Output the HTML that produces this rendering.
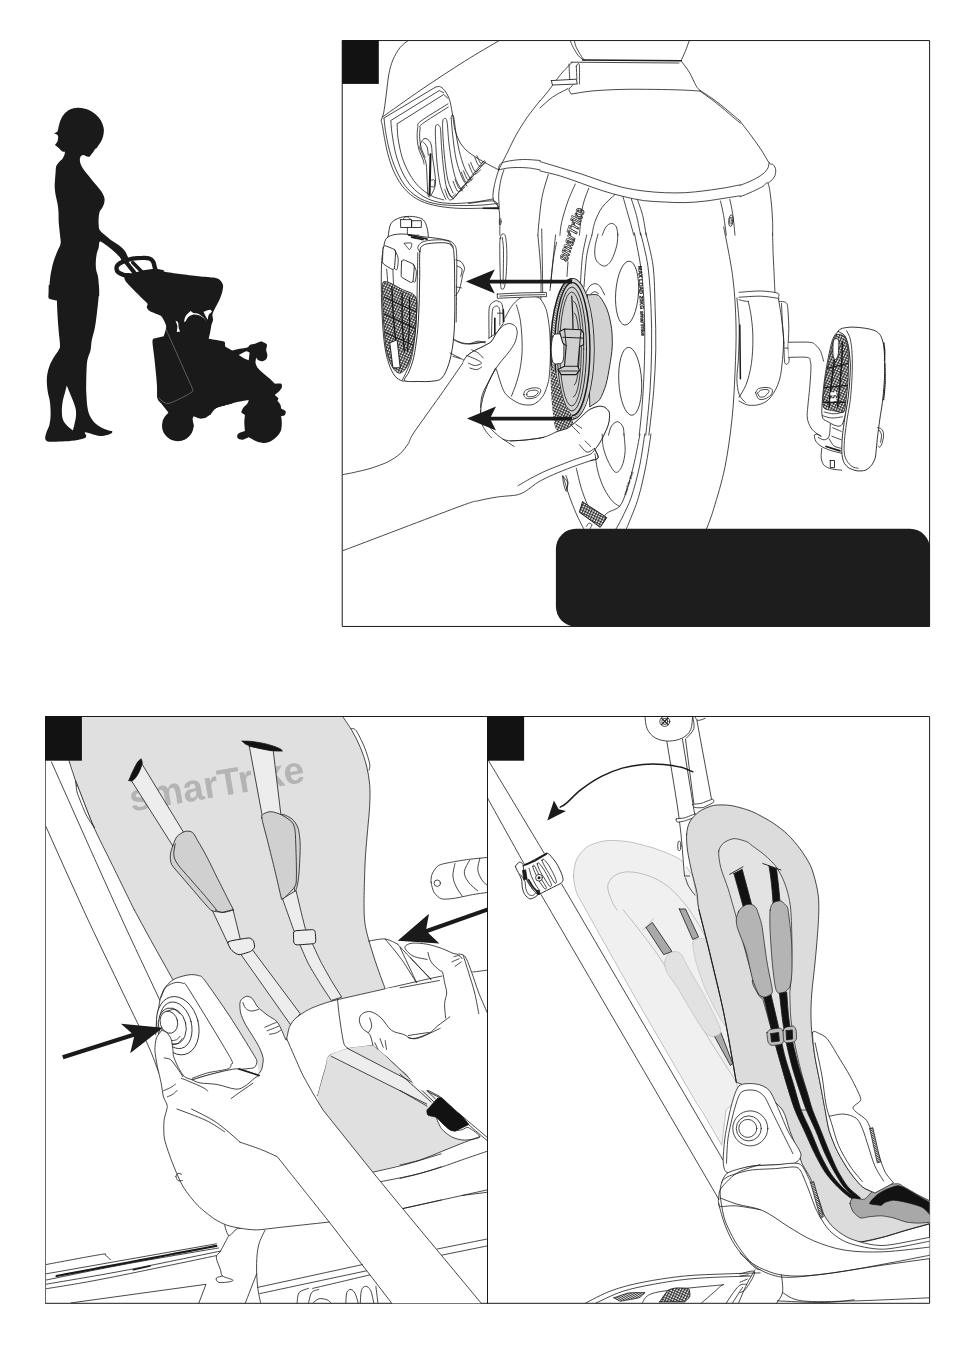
<!DOCTYPE html>
<html lang="en"><head><meta charset="utf-8"><title>smarTrike instructions</title>
<style>
html,body{margin:0;padding:0;background:#fff;}
body{width:964px;height:1361px;overflow:hidden;font-family:"Liberation Sans",sans-serif;}
svg{display:block;filter:grayscale(1);}
text{text-rendering:geometricPrecision;}
path,line,circle,ellipse,rect{stroke-linejoin:round;stroke-linecap:round;}
</style></head><body>
<svg width="964" height="1361" viewBox="0 0 964 1361">
<!-- p_base -->
<g>
<rect x="342.6" y="40.55" width="587" height="585.9" fill="#fff" stroke="#1a1a1a" stroke-width="1"/>
<rect x="45.55" y="716.5" width="884.05" height="586.8" fill="#fff" stroke="#1a1a1a" stroke-width="1"/>
</g>
<!-- p_sil -->
<g>
<path d="M77.5 107.7C80 107.6 82.5 108.1 85 108.7C87.5 109.4 90.2 110.4 92.4 111.9C94.7 113.3 97 115.5 98.7 117.5C100.4 119.5 101.6 121.6 102.4 123.7C103.3 125.8 103.8 127.9 103.9 130C104 132.1 103.5 134.3 103.1 136.2C102.6 138.1 101.9 139.8 101.2 141.2C100.5 142.7 99.4 143.8 98.7 145C98 146.1 97.4 147 96.8 148.1C96.2 148.5 95.5 148.7 94.9 149.3C94.4 150 94.3 150.7 93.4 151.8C92.6 153 91.1 154.7 90 156.2C89.3 156.4 89.2 157 88.1 156.8C86.9 156.6 84.4 154.8 83.1 154.9C81.8 155 80.7 156.2 80.2 157.4C79.7 158.7 79.7 160.6 80.2 162.4C80.7 164.3 81.5 166.2 83.1 168.7C84.7 171.2 87.8 174.7 90 177.4C92.1 180.1 94.3 182.6 96.2 184.9C98.1 187.2 99.8 189.1 101.2 191.2C102.5 193.2 103.8 195.5 104.3 197.4C104.8 199.3 104.6 200.7 104.3 202.4C104 204.1 103.2 205.9 102.4 207.4C101.7 208.8 100.6 209.5 99.9 211.1C99.3 212.8 98.9 215.1 98.7 217.4C98.5 219.7 98.5 222.8 98.7 224.9C98.9 227 98.6 228.2 99.7 229.9C100.7 231.5 102.8 233 104.9 234.9C107.1 236.7 109.9 239.2 112.4 241.1C114.9 243 117.8 244.4 119.9 246.1C122 247.8 123.7 249.4 124.9 251.1C126.2 252.8 126.7 254.6 127.4 256.1C128.1 257.6 129.3 258.8 129.3 259.8C129.3 260.9 128.5 262 127.4 262.3C126.4 262.6 124.3 262.5 123 261.7C121.8 260.9 121.3 258.9 119.9 257.3C118.6 255.8 117 254.2 114.9 252.3C112.8 250.5 109.7 247.9 107.4 246.1C105.1 244.3 102.5 242.4 101.2 241.7C99.8 241.1 99.7 241.4 99.3 242.4C98.9 243.3 99.1 245.5 98.7 247.4C98.3 249.2 97.3 251.1 96.8 253.6C96.3 256.1 95.9 259.6 95.8 262.3C95.7 265.1 95.8 267.5 96.2 270C96.6 272.5 97.6 274 98.1 277.3C98.6 280.6 98.8 285.6 99.2 289.8L99.2 296.1L57 301L57 299.8L49.4 298.3L48.7 296.7C48.9 294.4 48.9 293 49.1 289.8C49.4 286.6 49.8 280.6 50.2 277.3C50.6 274 50.9 272.7 51.5 270C52.1 267.2 52.7 264.2 53.7 261.1C54.7 257.9 56.3 254 57.5 251.1C58.6 248.2 60.2 246.3 60.6 243.6C61 240.9 60.3 238.4 60 234.9C59.7 231.3 59 226.1 58.7 222.4C58.5 218.6 58.7 215.5 58.5 212.4C58.3 209.3 58 206.6 57.5 203.6C57 200.7 56.1 197.6 55.6 194.9C55.2 192.2 54.8 189.9 54.7 187.4C54.6 184.9 54.8 182.4 55 179.9C55.1 177.4 55.4 174.7 55.6 172.4C55.8 170.1 55.7 167.8 56.2 166.2C56.8 164.5 57.7 163.7 58.7 162.4C59.8 161.2 61.5 159.9 62.5 158.7C63.4 157.4 63.9 156.1 64.4 154.9C64.8 153.8 64.8 152.9 65 151.8C63.9 151.6 62.9 151.8 61.9 151.2C60.8 150.6 59.9 149.1 58.7 148.1C57.6 147 56.2 146 55 145C55.8 143.7 57 142.7 57.5 141.2C58 139.8 58.3 137.4 58.1 136.2C57.9 135.1 56.9 134.8 56.2 134.3C55.5 133.9 54.7 133.8 54 133.5C55.2 132.7 56.7 132.4 57.5 131.2C58.3 130 58.2 128.1 58.7 126.2C59.3 124.4 59.7 122.1 60.6 120C61.5 117.9 62.8 115.5 64.4 113.7C65.9 112 67.8 110.4 70 109.4C72.2 108.4 75 107.8 77.5 107.7Z" fill="#1a1a1a"/>
<path d="M48.7 285L98.7 285C98.8 286.7 98.9 288.1 98.9 290C98.9 291.9 98.9 293.1 98.7 296.2C98.4 299.4 98.1 303.5 97.4 308.7C96.8 313.9 95.9 322.3 94.9 327.5C94 332.7 92.6 336.2 91.8 340C91.1 343.7 91.2 347 90.6 349.9C90 352.9 88.7 354.9 88.1 357.4C87.5 359.9 87.1 360.6 86.8 364.9C86.5 369.3 86.3 378.5 86.2 383.7C86.1 388.9 86.2 392.2 86.5 396.1C86.7 400.1 86.9 404.1 87.5 407.4C88 410.7 88.7 413.5 90 416.1C91.2 418.7 93.1 421.1 94.9 423C96.8 424.9 99.1 426.2 101.2 427.4C103.3 428.5 105.6 429.2 107.4 429.9C109.3 430.5 110.6 430.7 112.2 431.1C112.1 431.7 112.6 432.4 111.8 433C111 433.6 109.4 434.4 107.4 434.9C105.5 435.3 102.4 436 99.9 435.9C97.4 435.8 94.9 434.8 92.4 434.2C90 433.6 86 432.1 85 432.4C83.9 432.6 86.2 434.5 86.2 435.5C86.2 436.4 86.4 437.2 85 438C83.5 438.7 80.8 439.3 77.5 439.9C74.1 440.4 69.6 441 65 441.3C60.4 441.7 53.1 441.9 50 441.7C46.9 441.6 47 441.2 46.2 440.5C45.5 439.7 45.1 438.9 45.2 437.4C45.3 435.8 46.2 433.2 46.9 431.1C47.6 429 48.7 427.6 49.4 424.9C50 422.2 50.5 418.6 50.6 414.9C50.7 411.1 50.5 406.6 50 402.4C49.5 398.2 48 394.1 47.5 389.9C47 385.7 46.6 381.4 46.9 377.4C47.2 373.5 48.2 369.5 49.4 366.2C50.5 362.8 52.2 360.1 53.7 357.4C55.3 354.7 57.7 352 58.7 349.9C59.8 347.9 60 348.1 60 344.9C60 341.8 59.1 336.2 58.7 331.2C58.3 326.2 57.8 320.1 57.5 315C57.2 309.9 57.1 305.4 56.9 300.6C54.4 300 50.8 299.4 49.4 298.7C48 298.1 48.8 297.5 48.5 296.9L48.7 285Z" fill="#1a1a1a"/>
<path d="M66.8 385.5C66.2 387.8 65.7 389.6 65 392.4C64.2 395.2 63 399.1 62.5 402.4C62 405.7 61.7 409.5 61.9 412.4C62 415.3 62.2 417.6 63.1 419.9C64 422.2 65.9 424.3 67.5 426.1C69.1 427.9 71 429 72.7 430.5C73.3 428.6 73.8 427.3 74.3 424.9C74.9 422.5 75.8 418.8 76 416.1C76.2 413.4 76.1 411.1 75.6 408.6C75.1 406.1 74 403.6 73.1 401.1C72.2 398.6 71 396.2 70 393.6C68.9 391 67.9 388.2 66.8 385.5Z" fill="#fff"/>
<g fill="none" stroke="#1a1a1a">
<path d="M123.7 275C122.8 274.5 119.3 273.3 118.1 272.2C116.9 271.1 116.6 269.6 116.5 268.5C116.4 267.3 116.5 266.3 117.5 265.2C118.5 264.1 120 262.9 122.5 261.9C125 260.8 129.1 259.4 132.5 258.7C135.8 258.1 139.7 257.9 142.5 257.9C145.3 257.8 147.6 257.9 149.3 258.5C151.1 259.1 152.1 260 153.1 261.6C154 263.2 154.5 266.7 155 268.1C155.4 269.5 155.5 269.7 155.6 270" fill="none" stroke="#1a1a1a" stroke-width="4.4" />
<path d="M122.5 257.5L135.6 274.3" fill="none" stroke="#1a1a1a" stroke-width="4.2" />
<path d="M132.7 262.5L141.8 271.8" fill="none" stroke="#1a1a1a" stroke-width="3.5" />
</g>
<path d="M123.7 275.6C124.1 274.8 123.6 273.4 125 273.1C126.3 272.8 131.4 273.5 133.7 273.1C136.1 272.7 139.6 270.9 142.5 270.3C145.3 269.8 152.1 268.8 155 268.7C157.8 268.7 160.8 269.6 163.7 270C164.1 270.6 162.8 271.3 164.9 271.8C167.1 272.4 175.4 273.4 179.9 274C184.4 274.6 194 275.7 198.7 276.2C203.3 276.7 212.1 277.2 214.9 277.7C217.7 278.2 218.8 279 219.9 280C221 280.9 222.7 283.5 223 285C223.3 286.5 222.8 289.4 222.4 291.2C222 293 220.7 296.7 219.9 298.7C219.1 300.7 217 304.5 216.1 306.2C215.3 307.9 214.1 310 213.6 311.2C213.1 312.3 212.5 313.8 212.4 314.9C212.3 316.1 213.2 318.6 213 319.9C212.9 321.3 211.9 323.3 211.4 324.9C211 327.4 210.5 330.6 210.1 332.4C209.8 334.2 209.1 336.6 208.6 338.7C213.4 339.5 220.8 340.7 223 341.2C225.2 341.7 224.3 342 225 342.4L225 405.5C222.5 406.1 219.1 406.6 217.4 407.3C215.7 408.1 213.3 410.1 212.4 411.1C211.5 412.1 211.1 413.7 210.5 415L169.9 415C169.1 413.7 168.1 412.3 167.4 411.1C166.8 409.9 165.8 407.3 164.9 406.1C164.1 404.9 162.2 403.5 161.2 402.3C160.2 401.2 157.9 398.7 157.4 397.3C156.9 396 157.6 395.2 157.4 392.4C157.3 389.5 156.6 380.8 156.2 376.1C155.8 371.5 154.8 361.9 154.3 357.4C153.8 352.9 152.6 344.9 152.5 342.4C152.3 339.9 152.9 339.9 153.1 338.7L163.7 336.2C164.1 334.9 164.6 333.7 164.9 332.4C165.3 331.1 166.4 327.8 166.2 326.2C166 324.5 164.4 321.3 163.7 319.9C163 318.6 162 316.9 161.2 316.2C160.4 315.4 158.9 315 157.4 314.3C155.9 313.6 151.4 312.1 150 311.2C148.5 310.3 147.2 308.4 146.8 307.4C146.5 306.4 148 304.9 147.5 303.7C146.9 302.5 144.5 300.7 142.5 298.7C140.5 296.7 134.7 291 132.5 288.7C130.2 286.4 126.8 283 125.6 281.2C124.4 279.5 124.4 277.5 123.7 275.6Z" fill="#1a1a1a"/>
<path d="M175 322.5L208.1 338.7C209.5 339.1 210.5 339.5 212.5 339.9C214.4 340.4 219.1 341.2 222.5 341.8C223.3 343.3 223.6 345 225 346.2C226.3 347.4 229.9 349.1 232.4 350.6C234.9 349.9 237.9 349.1 239.9 348.7C241.9 348.3 246.1 347.9 247.4 347.4C248.8 346.9 248.9 345.4 249.9 344.9C250.9 344.4 253.4 344.2 254.9 343.7C256.4 343.2 259.1 342 261.2 341.2C263 342.2 266.1 343.2 266.8 344.3C267.4 345.5 266.1 348.5 266.2 349.9C266.2 351.4 267.4 353.7 267.4 354.9C267.4 356.2 266.8 358.5 266.2 359.3C265.5 360.1 263.5 361.1 262.4 361.2C261.3 361.3 258.9 360.4 258 359.9C257.2 359.4 256.8 358.3 256.2 357.4C256 359.1 255.4 361.1 255.5 362.4C255.7 363.8 256.5 366.1 257.4 367.4C258.3 368.7 260.7 370.9 262.4 372.4C264.1 373.9 268.2 377.2 269.9 378.7C271.6 380.2 273.2 382 274.9 383.7C277 383.7 280.2 383.2 281.1 383.7C282.1 384.2 282.1 386.3 281.8 387.4C281.4 388.5 279.6 390.8 278.6 391.8C277.7 392.8 276.1 393.8 274.9 394.9L278.6 398.6L277.4 400.5C278.4 402 280 403.8 280.5 404.9C281 406 280.9 407.4 281.1 408.6C282.6 409.5 285 410.3 285.5 411.1C286 412 285.5 414.2 284.9 414.9C284.3 415.5 282.4 415.7 281.1 416.1C281.4 418.2 281.8 420.5 281.8 422.4C281.8 424.2 281.7 428 281.1 429.9C280.6 431.7 278.7 434.6 277.4 436.1C276.1 437.6 272.8 440.2 271.2 441.1C269.5 442 266.7 442.9 264.9 443C263.1 443.1 259.1 442.2 257.4 441.7C255.8 441.2 253.6 439.8 252.4 439.2C251.3 438.6 249.9 438 248.7 437.3C246.6 438.2 243.8 439.7 242.4 439.8C241 440 238.8 439.2 238.1 438.6C237.4 438 237 436.2 237.2 435.5C237.4 434.7 238.3 433.6 239.3 433C240.3 432.4 243.1 431.7 244.9 431.1C244.7 428.2 244.3 424.5 244.3 422.4C244.3 420.2 244.7 417.4 244.9 414.9L241.2 412.4C241.8 410.9 242.2 409.2 243.1 408C243.9 406.8 246.7 404.7 247.4 403.6C248.2 402.5 248.3 401.1 248.7 399.9C246.6 400.3 244.8 400.6 242.4 401.1C240.1 401.6 234.7 402.7 231.2 403.6C227.7 404.5 218.9 406.7 216.2 408C213.5 409.3 212.5 412.4 211.2 413.6C209.9 414.9 207.7 416.7 206.2 417.4C204.7 418 201.6 418.8 200 418.6C198.3 418.4 195.8 417 193.7 416.1C193.3 417.4 192.5 418.5 192.5 419.9C192.5 421.2 193.9 424.3 193.7 426.1C193.6 427.9 192.2 431.9 191.2 433.6C190.2 435.3 187.7 437.6 186.2 438.6C184.7 439.6 181.5 440.6 180 440.8C178.5 441.1 176.7 440.6 175 440.5L175 322.5Z" fill="#1a1a1a"/>
<circle cx="177.7" cy="425.5" r="15.7" fill="#1a1a1a"/>
<path d="M157.2 387.4C157.3 391.2 156.8 396.3 157.5 398.7C158.2 401 161.1 403.2 162.5 404.9C163.8 406.6 165.8 409.1 167.5 411.1L193.1 416.1C195.3 416.8 198.2 417.9 199.9 418C201.7 418.1 204.5 417.7 206.2 416.8C207.8 415.8 210.9 412.4 212.4 411.1C213.9 409.9 214.7 408.4 217.4 407.4C220.1 406.4 227.4 404.9 232.4 403.6L232.4 374.9L157.2 387.4Z" fill="#1a1a1a"/>
<path d="M184 321.8C184.5 320 184.5 318 185.6 316.2C186.7 314.4 188.9 312.7 190.6 311C191.7 311.7 192.4 312.6 193.7 313.1C195.1 313.6 197.1 313.2 198.7 314C200.4 314.7 202.4 316.5 203.7 317.7C205 319 205.6 320.2 206.5 321.5C205.3 320.2 204.5 318.8 203.1 317.7C201.7 316.6 199.9 315.5 198.1 315C196.3 314.5 194.1 314.3 192.5 314.7C190.8 315.1 189.3 316.1 188.1 317.2C187 318.3 186.3 320.4 185.6 321.2C184.9 322 184.5 321.6 184 321.8Z" fill="#fff"/>
<path d="M203.5 311.8C205.6 311.1 208.5 309.7 210 309.7C211.4 309.7 211.3 311.1 212 311.8C210.9 312.9 209.4 313.7 208.7 315C208 316.3 208.1 318.1 207.7 319.7C207 318.5 206.3 317.5 205.6 316.2C204.9 314.9 204.2 313.3 203.5 311.8Z" fill="#fff"/>
<path d="M238.7 354.9C241.2 353.7 245.1 351.4 246.2 351.2C247.3 350.9 248.4 352 249.6 352.4L248.7 360.2C247.4 359.7 245.9 359.2 244.9 358.7C243.9 358.2 240.8 356.2 238.7 354.9Z" fill="#fff"/>
<path d="M175.6 320.5C176.4 321.2 177.7 321.6 178.1 322.4C178.4 323.2 178.7 327.8 178.9 328.7C179.1 329.6 179.8 330.5 180.2 331.4L176.8 332C177 330.1 177.5 327.1 177.4 326.2C177.4 325.2 176.4 323 176.2 322.4C176 321.9 175.8 321.2 175.6 320.5Z" fill="#fff"/>
<path d="M164.9 326.8L192.4 388.6C192.1 389.9 194.3 390.3 191.4 392.4C188.5 394.4 179.1 399.3 174.9 401.1C170.7 402.9 168.9 403.9 166.2 403.3C163.5 402.8 159.9 398.9 158.7 398" fill="none" stroke="#ddd" stroke-width="0.35" />
</g>
<!-- p_p1 -->
<g>
<defs><clipPath id="c1"><rect x="343" y="41" width="586" height="585"/></clipPath><pattern id="hat1" width="2.6" height="2.6" patternUnits="userSpaceOnUse" patternTransform="rotate(25)"><rect width="2.6" height="2.6" fill="#fff"/><path d="M0 0.6H2.6M0.6 0V2.6" stroke="#1a1a1a" stroke-width="0.9"/></pattern><pattern id="hat2" width="1.6" height="1.6" patternUnits="userSpaceOnUse" patternTransform="rotate(-30)"><rect width="1.6" height="1.6" fill="#fff"/><path d="M0 0.5H1.6" stroke="#1a1a1a" stroke-width="0.8"/></pattern><pattern id="hat3" width="1.5" height="1.5" patternUnits="userSpaceOnUse" patternTransform="rotate(-20)"><rect width="1.5" height="1.5" fill="#fff"/><path d="M0 0.5H1.5" stroke="#1a1a1a" stroke-width="0.55"/></pattern></defs>
<g clip-path="url(#c1)" fill="none" stroke="#1a1a1a" stroke-width="0.8">
<path d="M408.5 40.2C407.1 41.4 402.8 44.2 400.2 47.4C397.6 50.7 394.8 55.4 392.9 59.9C391 64.4 389.8 69.2 388.8 74.4C387.7 79.6 387.4 85.1 386.7 91C385.9 96.9 384.9 105.4 384.2 109.7C383.5 114 383.1 114.5 382.5 117L381.1 120.1C381.6 122.1 381.9 123.2 382.5 126.3C383.1 129.4 383.6 133.5 384.6 138.7C385.6 143.9 387 151.5 388.8 157.4C390.5 163.3 392.4 168.8 395 174C397.6 179.2 400.7 184.4 404.3 188.5C407.9 192.7 411.9 196.1 416.8 198.9C421.6 201.7 426.8 203.6 433.4 205.1C439.9 206.7 447.9 207.7 456.2 208.2C464.5 208.8 476.1 208.3 483.2 208.2C490.2 208.1 496.1 207.7 498.7 207.6" fill="none" stroke="#1a1a1a" stroke-width="0.8" />
<path d="M382.5 117C389.3 112.2 409.3 97.8 423 88.5C436.6 79.3 451.7 69.4 464.5 61.3C477.3 53.3 493.9 43.7 499.8 40.2" fill="none" stroke="#1a1a1a" stroke-width="0.8" />
<path d="M384 118L435.9 86.9C437.4 86.9 439 86 440.6 86.9C442.3 87.7 444.3 89.6 445.8 92.1C447.4 94.5 448.7 97.1 450 101.4C451.2 105.7 452.2 113.1 453.1 118C453.9 122.8 453.9 126.3 455.1 130.4C456.4 134.6 458.1 139.3 460.3 142.9C462.6 146.5 464.8 149.1 468.6 152.2C472.4 155.3 478.1 158.6 483.2 161.6C488.2 164.5 496.1 168.5 498.7 169.9" fill="none" stroke="#1a1a1a" stroke-width="0.8" />
<path d="M384 118.4C384.7 123.8 384.9 128.4 386.1 134.6C387.2 140.7 388.8 148.8 390.8 155.3C392.8 161.9 395.3 168.5 398.1 174C400.9 179.5 403.6 184.4 407.4 188.5C411.2 192.7 415.9 196.3 420.9 198.9C425.9 201.5 431.3 203 437.5 204.1C443.7 205.2 451 205.4 458.3 205.5C465.5 205.7 474.5 205.5 481.1 205.1C487.6 204.8 494.9 203.7 497.7 203.5" fill="none" stroke="#1a1a1a" stroke-width="0.8" />
<path d="M443.7 92.7C443 92.3 440.7 91.3 439.2 90.6L390.8 120.5C391.2 124.5 391.1 127 391.9 132.5C392.7 138 393.9 146.7 395.6 153.3C397.3 159.8 399.6 166.4 402.2 171.9C404.9 177.5 407.9 182.3 411.6 186.5C415.2 190.6 419.5 194.2 424 196.8C428.5 199.5 433.2 201.1 438.5 202.2C443.9 203.3 450.1 203.5 456.2 203.5C462.2 203.4 468.6 202.8 474.9 202C481.1 201.3 490.4 199.4 493.5 198.9" fill="none" stroke="#1a1a1a" stroke-width="0.8" />
<path d="M447.9 98.3C447.2 97.7 445.1 95.8 443.7 94.5L397.1 123.8C397.4 128.8 397.2 133.1 398.1 138.7C399 144.3 400.3 151.5 402.2 157.4C404.1 163.3 406.7 169.2 409.5 174C412.3 178.8 415.2 182.8 418.8 186.5C422.5 190.1 427.1 193.5 431.3 195.8C435.4 198 441.7 199.2 443.7 199.9" fill="none" stroke="#1a1a1a" stroke-width="0.8" />
<path d="M447.9 103.9C438.9 109.6 425.9 117.2 420.9 121.1C415.9 125 418.4 124.4 417.8 127.3C417.2 130.3 417 135.1 417.2 138.7C417.4 142.4 417.9 145.7 418.8 149.1C419.8 152.6 422.1 157 423 159.5C423.9 162 423.9 163.3 424 164" fill="none" stroke="#1a1a1a" stroke-width="0.8" />
<path d="M448.3 107C439.7 112.5 427.3 120 422.6 123.6C417.9 127.2 420.6 126.3 420.1 128.8C419.6 131.3 419.5 135.5 419.7 138.7C419.9 142 420.4 145 421.3 148.1C422.2 151.2 424.4 155.9 425.1 157.4" fill="none" stroke="#1a1a1a" stroke-width="0.8" />
<path d="M445.8 199.3C444.9 197.2 442 191.7 440.6 186.5C439.2 181.2 438.3 174.3 437.5 167.8C436.7 161.2 436.2 153.6 435.9 147C435.5 140.5 435.2 132.1 435.4 128.4C435.6 124.6 436.4 125 437.1 124.6C437.8 124.3 439 125.3 439.6 126.3C440.2 127.3 440.3 126.6 440.6 130.4C441 134.2 441.1 142.5 441.7 149.1C442.2 155.7 442.9 163.3 443.7 169.9C444.6 176.4 445.3 183.7 446.8 188.5C448.4 193.4 452 197.2 453.1 198.9" fill="none" stroke="#1a1a1a" stroke-width="0.8" />
<path d="M453.1 193.1C452.2 190.9 449.3 185.8 447.9 180.2C446.5 174.6 445.6 166.4 444.8 159.5C444 152.6 443.5 145 443.1 138.7C442.8 132.5 442.4 125.5 442.7 122.1C443 118.7 444 118.4 444.8 118.4C445.5 118.4 446.4 118.1 447.1 122.1C447.7 126.2 448.1 136 448.9 142.9C449.8 149.8 450.8 157.4 452 163.6C453.2 169.9 454.5 175.7 456.2 180.2C457.9 184.8 461.4 189.2 462.4 191" fill="none" stroke="#1a1a1a" stroke-width="0.8" />
<path d="M451 118C451.2 117.5 452 114.9 452.4 114.9C452.9 114.9 453.3 114.7 453.9 118C454.5 121.3 455.3 129.1 456.2 134.6C457.1 140.1 457.9 145.7 459.3 151.2C460.7 156.7 462.5 162.9 464.5 167.8C466.5 172.6 470 178.2 471.1 180.2" fill="none" stroke="#1a1a1a" stroke-width="0.8" />
<path d="M451.2 118.4C451.5 121.8 452.2 131.9 453.1 138.7C453.9 145.6 454.8 153.3 456.2 159.5C457.6 165.7 459.6 171.7 461.4 176.1C463.2 180.5 466 184.4 467 186" fill="none" stroke="#1a1a1a" stroke-width="0.8" />
<path d="M444.8 189.6C445.6 191.3 447.6 199 449.5 199.9C451.5 200.9 455.4 196 456.6 195.2" fill="none" stroke="#1a1a1a" stroke-width="0.8" />
<path d="M446.8 187.9C447.5 189.4 449.4 196 450.8 197C452.2 198 454.6 194.4 455.4 193.9" fill="none" stroke="#1a1a1a" stroke-width="0.8" />
<path d="M453.1 181.3C453.9 183 456.3 190.7 458.3 191.6C460.2 192.6 463.8 187.7 464.9 186.9" fill="none" stroke="#1a1a1a" stroke-width="0.8" />
<path d="M455.1 179.6C455.9 181.1 458.1 187.7 459.5 188.7C460.9 189.7 463 186.1 463.7 185.6" fill="none" stroke="#1a1a1a" stroke-width="0.8" />
<path d="M461.4 172.3C462.2 174.1 464.6 181.7 466.6 182.7C468.5 183.7 472.1 178.9 473.2 178.2" fill="none" stroke="#1a1a1a" stroke-width="0.8" />
<path d="M463.4 170.7C464.2 172.2 466.4 178.8 467.8 179.8C469.2 180.9 471.3 177.4 472 176.9" fill="none" stroke="#1a1a1a" stroke-width="0.8" />
<path d="M468.6 164C469.5 165.8 471.8 173.5 473.8 174.4C475.8 175.4 479.3 170.6 480.5 169.9" fill="none" stroke="#1a1a1a" stroke-width="0.8" />
<path d="M470.7 162.4C471.4 163.9 473.6 170.5 475.1 171.5C476.5 172.6 478.5 169.1 479.2 168.6" fill="none" stroke="#1a1a1a" stroke-width="0.8" />
<path d="M474.9 157.4C475.6 158.9 477.6 165.4 479.4 166.1C481.2 166.9 484.6 162.7 485.6 162" fill="none" stroke="#1a1a1a" stroke-width="0.8" />
<path d="M476.9 155.7C477.6 157 479.4 162.4 480.7 163.2C481.9 164 483.8 161.1 484.4 160.7" fill="none" stroke="#1a1a1a" stroke-width="0.8" />
<path d="M456.2 195.2C460.7 189.6 478.7 167.2 483.2 161.6" fill="none" stroke="#1a1a1a" stroke-width="0.8" />
<path d="M453.1 198.9C458.4 192.7 479.9 168.1 485.2 162" fill="none" stroke="#1a1a1a" stroke-width="0.8" />
<path d="M419.9 148.1C420 147.2 420.2 144.4 420.9 142.9C421.6 141.3 422.8 139.3 424 138.7C425.2 138.2 427 138.7 428.2 139.8C429.4 140.8 430.6 142.4 431.3 145C432 147.6 431.8 151.2 432.3 155.3C432.8 159.5 433.9 165 434.4 169.9C434.9 174.7 436 180.2 435.4 184.4C434.9 188.5 432.5 192.8 431.3 194.8C430.1 196.7 428.9 198.2 428.2 195.8C427.5 193.4 427.5 185.6 427.1 180.2C426.8 174.9 426.8 167.8 426.1 163.6C425.4 159.5 424 157.9 423 155.3C422 152.7 420.4 149.3 419.9 148.1" fill="none" stroke="#1a1a1a" stroke-width="0.8" />
<path d="M430.5 154.3L429.6 194.8" fill="none" stroke="#1a1a1a" stroke-width="2" />
<path d="M423 141.8C423.7 142.7 426.3 144.8 427.1 147C428 149.3 428 153.9 428.2 155.3" fill="none" stroke="#1a1a1a" stroke-width="0.8" />
<path d="M431.3 180.2C431.8 180.2 433.9 179.2 434.4 180.2C434.9 181.3 434.9 185.4 434.4 186.5C433.9 187.5 431.8 186.5 431.3 186.5" fill="none" stroke="#1a1a1a" stroke-width="0.8" />
<path d="M540.2 100.4C538 103.3 530.7 112.3 526.7 118C522.7 123.7 519.5 129.1 516.3 134.6C513.2 140.1 510.5 146.3 508 151.2C505.6 156 503.4 160.5 501.8 163.6C500.3 166.7 499.2 168.8 498.7 169.9" fill="none" stroke="#1a1a1a" stroke-width="0.8" />
<path d="M498.7 169.9C498.9 169 498.5 166.1 499.8 164.7C501 163.3 502.2 162.4 506 161.6C509.8 160.7 516.9 159.7 522.6 159.5C528.3 159.3 537.3 160.3 540.2 160.5" fill="none" stroke="#1a1a1a" stroke-width="0.8" />
<path d="M498.7 169.9C500.6 169.5 505.5 168.1 510.1 167.8C514.8 167.4 521.7 167.4 526.7 167.8C531.7 168.1 538 169.5 540.2 169.9" fill="none" stroke="#1a1a1a" stroke-width="0.8" />
<path d="M498.7 169.9C498 172.3 495.5 179.5 494.6 184.4C493.6 189.2 492.4 194.9 493.1 198.9C493.8 202.9 497.6 204.4 498.7 208.2C499.8 212 499.6 217.2 499.8 221.7C499.9 226.2 499.8 233 499.8 235.2" fill="none" stroke="#1a1a1a" stroke-width="0.8" />
<path d="M503.9 169.9C503.4 171.6 501.7 176.1 500.8 180.2C499.9 184.4 499 190.3 498.7 194.8C498.5 199.2 499.2 205.1 499.3 207.2" fill="none" stroke="#1a1a1a" stroke-width="0.8" />
<path d="M468.6 203.5C472.8 203 488.5 200.2 493.5 201C498.5 201.8 497.8 207 498.7 208.2" fill="none" stroke="#1a1a1a" stroke-width="0.8" />
<path d="M483.2 208.2L498.7 208.4" fill="none" stroke="#1a1a1a" stroke-width="1.6" />
<ellipse cx="500.2" cy="221.7" rx="0.9" ry="3.2"/>
<path d="M570.1 40.2C570.6 41.4 571.8 44.9 573.2 47.4C574.6 50 576.8 53.8 578.4 55.7C579.9 57.7 581.8 58.5 582.5 59.1" fill="none" stroke="#1a1a1a" stroke-width="0.8" />
<path d="M574.2 40.2C574.6 41.4 575.1 44.8 576.3 47.4C577.5 50.1 580.1 54.2 581.5 56.4C582.9 58.5 584.1 59.7 584.6 60.3" fill="none" stroke="#1a1a1a" stroke-width="0.8" />
<path d="M582.5 59.9L681.1 60.7" fill="none" stroke="#1a1a1a" stroke-width="1.5" />
<path d="M571.1 62.2L679 63" fill="none" stroke="#1a1a1a" stroke-width="0.8" />
<path d="M689.4 40.2C688.7 42.1 686.6 48.2 685.2 51.6C683.8 55 681.8 59.2 681.1 60.7" fill="none" stroke="#1a1a1a" stroke-width="0.8" />
<path d="M681.1 60.9C682.5 62.8 687 68.4 689.4 72.3C691.8 76.3 693.9 81.9 695.6 84.8C697.3 87.7 696.3 87.2 699.8 90C703.2 92.7 710.8 97.2 716.3 101.4C721.9 105.5 729 111.6 732.9 114.9C736.9 118.2 739 120.1 740.2 121.1" fill="none" stroke="#1a1a1a" stroke-width="0.8" />
<path d="M699.8 91C702.5 93 710.8 98.7 716.3 103C721.9 107.4 729 113.6 732.9 117C736.9 120.3 739 122.1 740.2 123.2" fill="none" stroke="#1a1a1a" stroke-width="0.8" />
<path d="M573.2 84.8C572.5 85.6 569.4 87.8 569 89.4C568.7 90.9 570.4 92.5 571.1 94.1C578 93.1 583.2 91.8 591.9 91C600.5 90.2 612.6 89.6 623 89.4C633.4 89.1 644.4 89.3 654.1 89.4C663.8 89.5 673.5 89.7 681.1 90C688.7 90.3 696.6 90.8 699.8 91" fill="none" stroke="#1a1a1a" stroke-width="0.8" />
<path d="M572.2 62.2C570.3 64.2 564.7 69.6 560.7 74.4C556.8 79.2 551.8 86.6 548.3 91C544.8 95.4 541.4 99.3 540 101" fill="none" stroke="#1a1a1a" stroke-width="0.8" />
<path d="M568 88.5C565.4 90 557.1 94 552.4 97.2C547.8 100.5 542.1 106.2 540 108" fill="none" stroke="#1a1a1a" stroke-width="0.8" />
<path d="M551.4 80.6L576.3 79.2L577.3 84L552.4 85L551.4 80.6Z" fill="#fff" stroke="#1a1a1a" stroke-width="0.85" />
<path d="M569 64C569.1 66.6 569.6 77 569.7 79.6" fill="none" stroke="#1a1a1a" stroke-width="0.8" />
<path d="M576.3 66.1C576.4 68.3 576.8 76.8 576.9 79" fill="none" stroke="#1a1a1a" stroke-width="0.8" />
<path d="M576.3 66.1C576.5 65.8 577.2 64.1 577.8 64C578.3 64 579.1 62.4 579.4 65.7C579.7 69 579.4 80.9 579.4 84" fill="none" stroke="#1a1a1a" stroke-width="0.8" />
<path d="M540 161.6C543.5 162.6 553.8 165.7 560.7 167.8C567.7 169.9 574.6 171.8 581.5 174C588.4 176.3 595.3 179 602.2 181.3C609.2 183.5 616.1 185.9 623 187.5C629.9 189.1 636.8 190.2 643.7 191C650.7 191.9 657.6 192.4 664.5 192.7C671.4 193 678.3 193 685.2 192.7C692.1 192.3 699.1 191.5 706 190.6C712.9 189.7 721 188.5 726.7 187.5C732.4 186.5 738 185.2 740.2 184.8" fill="none" stroke="#1a1a1a" stroke-width="0.8" />
<path d="M540 170.9C543.5 171.8 553.8 174 560.7 176.1C567.7 178.2 574.6 180.9 581.5 183.3C588.4 185.8 595.3 188.4 602.2 190.6C609.2 192.8 616.1 194.8 623 196.4C629.9 198.1 636.8 199.6 643.7 200.6C650.7 201.5 657.6 201.7 664.5 202C671.4 202.4 678.3 202.8 685.2 202.6C692.1 202.5 699.1 201.8 706 201C712.9 200.2 721 198.7 726.7 197.9C732.4 197 738 196.1 740.2 195.8" fill="none" stroke="#1a1a1a" stroke-width="0.8" />
<path d="M548.3 174.4C547.3 178.2 543.6 188.9 542.1 196.8C540.5 204.7 539.7 215.3 539 221.7C538.3 228.1 538.1 233 537.9 235.2" fill="none" stroke="#1a1a1a" stroke-width="0.8" />
<path d="M575.3 184C574.1 186.8 570.3 194.7 568 201C565.8 207.3 563.1 216 561.8 221.7C560.4 227.4 560.2 233 559.9 235.2" fill="none" stroke="#1a1a1a" stroke-width="0.8" />
<path d="M588.8 188.1C587.7 191.3 584.1 199.3 582.5 207.2C581 215 579.9 230.5 579.4 235.2" fill="none" stroke="#1a1a1a" stroke-width="0.8" />
<path d="M614.7 194.8C612.6 196.8 605.5 202.7 602.2 207.2C599 211.7 596.7 217.1 595 221.7C593.3 226.4 592.4 233 591.9 235.2" fill="none" stroke="#1a1a1a" stroke-width="0.8" />
<path d="M623 196.8C623.7 199.2 625.8 206.5 627.1 211.3C628.5 216.2 630.2 221.9 631.3 225.9C632.4 229.8 633.4 233.7 633.8 235.2" fill="none" stroke="#1a1a1a" stroke-width="0.8" />
<path d="M631.3 198.9C632.2 201.7 634.9 209.4 636.5 215.5C638 221.5 639.9 231.9 640.6 235.2" fill="none" stroke="#1a1a1a" stroke-width="0.8" />
<path d="M637.5 199.9C638.4 202.5 641.2 209.6 642.7 215.5C644.1 221.4 645.6 231.9 646.2 235.2" fill="none" stroke="#1a1a1a" stroke-width="0.8" />
<path d="M720.5 201C721 203.4 722.6 209.8 723.6 215.5C724.6 221.2 725.9 231.9 726.3 235.2" fill="none" stroke="#1a1a1a" stroke-width="0.8" />
<path d="M729.8 199.3C730.4 202 732.1 209.5 732.9 215.5C733.8 221.5 734.7 231.9 735 235.2" fill="none" stroke="#1a1a1a" stroke-width="0.8" />
<ellipse cx="730.9" cy="220.7" rx="2.2" ry="5.8" transform="rotate(5 730.9 220.7)"/>
<ellipse cx="730.9" cy="220.7" rx="1.2" ry="3.6"/>
<path d="M602.2 235.2C602.9 233.8 604.4 228.9 606 226.9C607.5 224.9 609.8 223.4 611.6 223.4C613.3 223.4 615.3 224.9 616.3 226.9C617.4 228.9 617.6 233.8 617.8 235.2" fill="none" stroke="#1a1a1a" stroke-width="0.8" />
<path d="M740 121.1C741.7 123.3 746.9 129.9 750.4 134.6C753.8 139.3 757.6 144.4 760.7 149.1C763.9 153.8 767 160 769 162.6C771.1 165.2 772.1 163.5 773.2 164.7C774.3 165.9 775.5 167.8 775.7 169.9C775.9 171.9 775.5 174.9 774.2 177.1C773 179.4 769 182.3 768 183.3" fill="none" stroke="#1a1a1a" stroke-width="0.8" />
<path d="M740 185.4C742.1 184.6 748.6 182.1 752.4 180.2C756.3 178.3 760.2 176.1 762.8 174C765.4 171.9 767 169.7 768 167.8C769 165.9 768.9 163.5 769 162.6" fill="none" stroke="#1a1a1a" stroke-width="0.8" />
<path d="M740 196.8C742.1 196 748.6 193.4 752.4 191.6C756.3 189.9 760.2 187.8 762.8 186.5C765.4 185.1 766.6 180.9 768 183.3C769.4 185.8 770.4 194.6 771.1 201C771.9 207.4 772.3 216 772.6 221.7C772.8 227.4 772.6 233 772.6 235.2" fill="none" stroke="#1a1a1a" stroke-width="0.8" />
<path d="M634.4 232.9C635.4 238.5 639.1 255.4 640.6 266.1C642.2 276.8 643 285.1 643.7 297.2C644.4 309.3 644.8 324.9 644.8 338.7C644.8 352.6 644.3 368.1 643.7 380.2C643.2 392.3 642.4 402.2 641.7 411.3C640.9 420.5 639.6 431.2 639.2 435.2" fill="none" stroke="#1a1a1a" stroke-width="0.8" />
<path d="M640.6 232.9C641.8 238.5 646.2 253.7 647.9 266.1C649.6 278.6 650.4 293.8 651 307.6C651.6 321.4 651.8 335.3 651.6 349.1C651.4 362.9 650.9 376.3 650 390.6C649 405 646.5 427.8 645.8 435.2" fill="none" stroke="#1a1a1a" stroke-width="0.8" />
<path d="M645.8 232.9C647 238.5 651.5 253.7 653.1 266.1C654.6 278.6 654.7 293.8 655.1 307.6C655.6 321.4 656 335.3 655.8 349.1C655.5 362.9 654.8 376.3 653.7 390.6C652.6 405 649.7 427.8 648.9 435.2" fill="none" stroke="#1a1a1a" stroke-width="0.8" />
<path d="M723.7 226.8C725.2 235.3 730.8 261.1 732.8 277.5C734.9 293.8 735.6 309.1 736 324.9C736.4 340.7 735.7 356.6 735 372.4C734.4 388.2 733.6 404 731.9 419.8C730.2 435.7 727.9 452.5 724.9 467.3C721.9 482.1 717 497.9 713.8 508.4C710.7 519 707.3 526.9 705.9 530.6" fill="none" stroke="#1a1a1a" stroke-width="0.8" />
<path d="M537.9 235C538.4 241.9 540.7 262 541 276.5C541.4 291 540.2 314.5 540 322.1" fill="none" stroke="#1a1a1a" stroke-width="0.8" />
<path d="M555.6 235C555 240.2 553.3 257.5 552.4 266.1C551.6 274.8 550.7 283.4 550.4 286.9" fill="none" stroke="#1a1a1a" stroke-width="0.8" />
<path d="M568 262C567.8 264.4 567.1 274.1 567 276.5" fill="none" stroke="#1a1a1a" stroke-width="0.8" />
<path d="M586.7 235C586 238.5 583.6 247.8 582.5 255.7C581.5 263.7 580.8 278.2 580.5 282.7" fill="none" stroke="#1a1a1a" stroke-width="0.8" />
<path d="M591.9 235C591 238.5 588 247.1 586.7 255.7C585.4 264.4 584.4 281.7 584 286.9" fill="none" stroke="#1a1a1a" stroke-width="0.8" />
<path d="M598.1 234C597.6 236.2 595.3 243.1 595 247.4C594.6 251.8 594.5 256.8 596 259.9C597.6 263 601.7 266.1 604.3 266.1C606.9 266.1 609.5 263.4 611.6 259.9C613.7 256.4 615.7 249.7 616.8 245.4C617.8 241.1 617.6 235.9 617.8 234" fill="none" stroke="#1a1a1a" stroke-width="0.8" />
<ellipse cx="627.1" cy="293.1" rx="11.4" ry="32" transform="rotate(4 627.1 293.1)"/>
<ellipse cx="630.2" cy="381.3" rx="11.4" ry="34" transform="rotate(-3 630.2 381.3)"/>
<path d="M608.5 435.2C609 433.7 610 428.1 611.6 425.9C613.1 423.6 615.9 421.5 617.8 421.7C619.7 421.9 622 424.7 623 426.9C624 429.2 623.9 433.8 624 435.2" fill="none" stroke="#1a1a1a" stroke-width="0.8" />
<text opacity="0.99" x="638.3" y="266" font-family="Liberation Sans, sans-serif" font-size="5.2" font-weight="bold" fill="#1a1a1a" stroke="#1a1a1a" stroke-width="0.3" transform="rotate(87.5 638.3 266)" textLength="70" lengthAdjust="spacingAndGlyphs">MAX LOAD 20KG smarTrike</text>
<text opacity="0.99" x="567" y="262" font-family="Liberation Sans, sans-serif" font-size="13" font-weight="bold" font-style="italic" fill="#fff" stroke="#1a1a1a" stroke-width="0.8" transform="rotate(-71 567 262)" textLength="55" lengthAdjust="spacingAndGlyphs">smarTrike</text>
<text opacity="0.99" x="566" y="261.6" font-family="Liberation Sans, sans-serif" font-size="13" font-weight="bold" font-style="italic" fill="#fff" stroke="#1a1a1a" stroke-width="0.6" transform="rotate(-71 566 261.6)" textLength="55" lengthAdjust="spacingAndGlyphs">smarTrike</text>
<path d="M388.1 237.3C388.6 235 388.8 227.1 390.8 223.8C392.8 220.5 396.5 218.8 400.2 217.6C403.8 216.4 408.8 216.2 412.6 216.5C416.4 216.9 420.6 217.7 423 219.6C425.4 221.5 426.2 225 427.1 227.9C428 230.9 428.2 235.7 428.4 237.3" fill="#fff" stroke="#1a1a1a" stroke-width="0.85" />
<path d="M400.6 219.6L411.6 219.6L411.6 227.5L400.6 227.5L400.6 219.6Z" fill="none" stroke="#1a1a1a" stroke-width="0.85" />
<path d="M411.6 220.7L421.3 220.7L421.3 227.5L411.6 227.5L411.6 220.7Z" fill="none" stroke="#1a1a1a" stroke-width="0.85" />
<path d="M403.3 219.6C403.5 219.2 403.9 217.6 404.7 217.2C405.6 216.7 407.5 216.7 408.5 217.2C409.4 217.6 410.2 219.2 410.5 219.6" fill="none" stroke="#1a1a1a" stroke-width="0.8" />
<path d="M407.4 227.5C407.4 228.8 407.4 233.9 407.4 235.2" fill="none" stroke="#1a1a1a" stroke-width="0.8" />
<path d="M402.2 235.2C405 235.2 416.1 235.2 418.8 235.2" fill="none" stroke="#1a1a1a" stroke-width="0.8" />
<path d="M387.7 237.1C390.8 234.8 396.4 234 402.2 234C408.1 233.9 416.8 235.9 423 236.7C429.2 237.5 435.3 238 439.6 238.7C443.9 239.5 445.8 240.4 448.9 241.2L453.1 246.4L443.7 318L408.5 380.2C406.4 380.4 404.5 381.5 402.2 380.9C400 380.2 397.2 378.9 395 376.1C392.7 373.2 390.5 368.8 388.8 363.6C387 358.4 385.6 351.9 384.6 345C383.6 338 383 330.1 382.5 322.1C382 314.2 381.7 306.6 381.5 297.2C381.3 287.9 381.1 274.4 381.5 266.1C381.8 257.8 382.5 252.3 383.6 247.4C384.6 242.6 384.6 239.3 387.7 237.1Z" fill="#fff" stroke="#1a1a1a" stroke-width="0.85" />
<path d="M384 281.7C387.2 280.4 397 286.8 402.2 289.4C407.5 292 413.4 292.5 415.7 297.2C418.1 302 416.7 310.4 416.3 318C416 325.6 415 335.3 413.7 342.9C412.3 350.5 410.6 358.6 408.5 363.6C406.3 368.6 403.2 372.3 400.6 373C398 373.7 395.2 371.4 392.9 367.8C390.6 364.1 388.2 358.8 386.7 351.2C385.1 343.6 384.2 331.1 383.6 322.1C382.9 313.1 382.7 304 382.7 297.2C382.8 290.5 380.7 283 384 281.7Z" fill="url(#hat1)" stroke="#1a1a1a" stroke-width="0.8" />
<path d="M391.9 286.9C392.1 292.1 392.8 308.7 393.5 318C394.2 327.3 394.9 334.6 396 342.9C397.1 351.2 399.5 363.6 400.2 367.8" fill="none" stroke="#1a1a1a" stroke-width="1.4" />
<path d="M402.2 293.1C402.2 297.9 401.9 312.5 402.2 322.1C402.6 331.8 404 346.3 404.3 351.2" fill="none" stroke="#1a1a1a" stroke-width="1.4" />
<path d="M409.5 297.2C409.5 301.7 409.8 315.2 409.5 324.2C409.2 333.2 407.8 346.7 407.4 351.2" fill="none" stroke="#1a1a1a" stroke-width="1.2" />
<path d="M384.6 297.2L415.7 311.8" fill="none" stroke="#1a1a1a" stroke-width="1.2" />
<path d="M384 313.8L415.1 328.4" fill="none" stroke="#1a1a1a" stroke-width="1.2" />
<path d="M385.2 332.5L413 345" fill="none" stroke="#1a1a1a" stroke-width="1.2" />
<path d="M389.8 342.9L397.1 339.8L400.2 367.8L392.9 367.8L389.8 342.9Z" fill="#fff" stroke="#1a1a1a" stroke-width="0.9" />
<path d="M383.2 247.9C383.4 246.5 384.3 245.7 385.2 245.8C386.2 245.9 393.5 249 394.4 249.5C395.2 250 395.6 250.5 395.6 252C395.6 253.6 394.7 266.8 394.4 268.2C394 269.6 392.8 269.6 391.9 269.2C391 268.9 384.3 264.7 383.6 264C382.8 263.4 382.6 262.9 382.5 261.6C382.5 260.2 382.9 249.2 383.2 247.9Z" fill="#fff" stroke="#1a1a1a" stroke-width="0.9" />
<path d="M401.6 261.6C401.8 260.3 402.9 259.7 403.9 259.9C404.9 260.1 412.2 263.5 413 264C413.9 264.6 414.3 265.1 414.3 266.5C414.3 268 413.3 279.7 413 281.1C412.7 282.4 411.4 282.6 410.5 282.3C409.6 282 403 278.1 402.2 277.5C401.5 277 401.3 276.8 401.2 275.5C401.2 274.1 401.4 262.9 401.6 261.6Z" fill="#fff" stroke="#1a1a1a" stroke-width="0.9" />
<path d="M394.4 249.5C395 250.9 397.6 254.5 398.1 257.8C398.5 261.1 397.7 267.5 397.1 269.2C396.4 271 394.8 268.4 394.4 268.2" fill="none" stroke="#1a1a1a" stroke-width="0.8" />
<path d="M413 264C413.6 265.3 416 268.4 416.3 271.3C416.7 274.2 415.7 280.1 415.1 281.7C414.6 283.3 413.4 281.2 413 281.1" fill="none" stroke="#1a1a1a" stroke-width="0.8" />
<path d="M386.7 269.2C386.9 271.3 387.5 279.6 387.7 281.7" fill="none" stroke="#1a1a1a" stroke-width="0.8" />
<path d="M392.9 270.3C393 272.5 393.4 281.5 393.5 283.8" fill="none" stroke="#1a1a1a" stroke-width="0.8" />
<path d="M404.3 243.3C405.2 244.3 408.3 249.5 409.5 249.5C410.7 249.5 412.4 244.3 411.6 243.3C410.7 242.3 405.5 243.3 404.3 243.3" fill="none" stroke="#1a1a1a" stroke-width="0.8" />
<path d="M408.5 235C411.6 235.7 424 238.5 427.1 239.1" fill="none" stroke="#1a1a1a" stroke-width="1.6" />
<path d="M411.6 237.1C413.5 237.5 421.1 239.1 423 239.6" fill="none" stroke="#1a1a1a" stroke-width="1.6" />
<path d="M419.9 251.6C420.4 246.4 421.1 246.8 423 245.4C424.9 244 427.5 243.7 431.3 243.3C435.1 242.9 442.4 242.4 445.8 242.9C449.3 243.4 450.7 244.3 452 246.4C453.4 248.6 453.7 249 454.1 255.7C454.6 262.5 454.6 276.5 454.7 286.9C454.8 297.2 455 308.7 454.7 318C454.5 327.3 454 335.3 453.1 342.9C452.1 350.5 450.8 357.8 448.9 363.6C447 369.5 444.6 375.2 441.7 378.2C438.7 381.1 435.1 380.7 431.3 381.3C427.5 381.8 423.3 381.6 418.8 381.5C414.4 381.4 406.4 382.2 404.7 380.6C403.1 379.1 407.4 375.8 408.9 371.9C410.4 368.1 412.3 363.6 413.7 357.4C415 351.2 416.3 342.9 417.2 334.6C418.1 326.3 418.6 317.3 419 307.6C419.5 297.9 419.5 285.8 419.7 276.5C419.8 267.2 419.3 256.8 419.9 251.6Z" fill="#fff" stroke="#1a1a1a" stroke-width="0.9" />
<path d="M417.8 252.6C417.7 256.6 417.6 267.3 417.4 276.5C417.2 285.7 417.1 297.9 416.8 307.6C416.4 317.3 416 326.3 415.1 334.6C414.2 342.9 413 351.4 411.6 357.4C410.2 363.5 408.4 367.1 406.8 370.9C405.2 374.7 403 378.7 402.2 380.2" fill="none" stroke="#1a1a1a" stroke-width="0.8" />
<path d="M419.9 251.6C419.5 250.9 417.5 249 417.8 247.4C418.1 245.9 419.7 243.5 422 242.3C424.2 241.1 427.1 240.5 431.3 240.2C435.4 239.8 443 239.5 446.8 240.2C450.7 240.9 452.5 242.1 454.1 244.3C455.7 246.6 456.2 246.6 456.6 253.7C457 260.8 456.7 275.5 456.6 286.9C456.5 298.3 456.3 316.3 456.2 322.1" fill="none" stroke="#1a1a1a" stroke-width="0.8" />
<path d="M455.8 259.9C456.7 260.2 459.9 260.6 461.4 262C462.8 263.4 464.2 266.1 464.5 268.2C464.7 270.3 463.4 271.7 462.8 274.4C462.2 277.2 461.4 282 460.7 284.8C460.1 287.6 459.5 289.2 458.7 291C457.8 292.8 456.3 294.8 455.8 295.6" fill="none" stroke="#1a1a1a" stroke-width="0.8" />
<path d="M457.2 266.1C458 266.6 461.4 267.5 462 269.2C462.6 271 461 275.3 460.7 276.5" fill="none" stroke="#1a1a1a" stroke-width="0.8" />
<path d="M456.2 286.9C457 287 460.5 287.7 461.4 287.9" fill="none" stroke="#1a1a1a" stroke-width="0.8" />
<path d="M454.7 340.4C456.4 341 460.8 343.5 464.5 343.9C468.2 344.3 473.5 343.2 476.9 342.9C480.4 342.5 483.8 342 485.2 341.8" fill="none" stroke="#1a1a1a" stroke-width="0.8" />
<path d="M453.1 356.4C455 357 462.6 359.3 464.5 359.9" fill="none" stroke="#1a1a1a" stroke-width="0.8" />
<path d="M469.7 343.9C471.1 343.5 475.4 341.4 478 341.2C480.6 341.1 484 342.6 485.2 342.9" fill="none" stroke="#1a1a1a" stroke-width="0.8" />
<path d="M341 475C345.5 474.1 350.5 473.3 354.5 472.3C358.5 471.4 366.7 469.6 371.1 468.2C375.5 466.8 383.8 463.9 387.7 462C391.6 460 397.4 456.2 400.2 453.7C402.9 451.2 406.7 446.1 408.5 443.3C410.3 440.5 408.9 440 413.7 432.9C418.4 425.9 436.6 400.7 443.7 390.6C450.8 380.5 459.2 368.2 467 357C465.7 358.4 463.3 361.4 463.3 361.3C463.2 361.2 465.3 357.7 466.6 356.3C467.9 355 471 352.7 473.2 351.4C475.4 350 480.8 347.7 483.2 346.4C485.6 345.1 489.7 343.2 491.5 341.4C493.3 339.6 494.9 335.2 496.5 333.1C498 331 501.3 326.9 503.1 325.6C504.9 324.4 508.1 323.4 509.8 323.5C511.4 323.6 514.6 325.2 515.6 326.5C516.6 327.8 517.3 330.9 517.2 333.1C517.1 335.3 515.9 340.4 514.7 343.1C513.5 345.7 510.1 350.4 508.1 353C506.1 355.7 501.8 360.3 499.8 363C497.8 365.6 494.7 370.3 493.2 372.9C491.6 375.6 489.5 379.8 488.2 382.9C486.8 386 484.2 392.6 483.2 396.2C482.2 399.7 480.9 405.9 480.7 409.5C480.5 413 481.1 421.5 481.5 422.7C482 423.9 482.9 417.6 484.3 418.5C485.6 419.5 489.3 427 491.7 429.7C494.2 432.5 500.5 437.6 502.9 439.1C505.4 440.6 507.9 440.3 510.4 440.9C515.4 440.6 520.9 440.5 525.3 440C529.8 439.5 539.8 438.3 544 437.2C548.2 436.1 553.9 432.9 557.1 431.6C560.3 430.4 565.3 429.6 568.3 427.9C571.3 426.1 576.8 420.9 579.5 418.5C582.2 416.2 586.3 411.8 588.8 410.1C591.3 408.5 596 406.8 598.2 406.4C600.3 406 603.2 406.5 604.7 407.3C606.2 408.2 608.9 410.7 609.4 412.9C609.9 415.2 609.3 420.9 608.4 424.1C607.6 427.4 604.3 434.2 602.8 437.2C601.3 440.2 598.3 445.1 597.2 446.5C596.1 448 595.4 447.8 594.4 448.4C595.7 451.5 598.7 456.1 598.2 457.8C597.7 459.4 594.2 459.3 590.7 460.6C587.2 461.8 577 465.2 572 467.1C567 469 557.8 472.6 553.4 474.6C548.9 476.5 542.2 479.8 538.4 482C534.7 484.3 528.3 489.6 525.3 491.4C522.4 493.1 519.7 494.3 516 495.1C512.3 495.8 502.3 496.2 497.3 497C492.4 497.7 483.6 499.4 478.7 500.7C473.7 501.9 478.4 499.5 460 506.3C441.6 513.1 380.7 536.4 341 551.4L341 475Z" fill="#fff" stroke="#1a1a1a" stroke-width="0.8" />
<path d="M500.2 238.3C500.6 235.5 501.4 234.5 502.2 234.1C503.1 233.8 504.6 233.5 505.4 236.2C506.1 239 506.6 244.9 506.8 250.7C507 256.6 506.7 265.6 506.4 271.5C506 277.4 505.4 283.1 504.7 286C504 289 502.9 289.5 502.2 289.1C501.5 288.8 501 290.3 500.6 283.9C500.2 277.5 499.8 258.4 499.8 250.7C499.7 243.1 499.8 241.1 500.2 238.3Z" fill="#fff" stroke="#1a1a1a" stroke-width="0.8" />
<path d="M502.2 237.3C502.4 239.5 503.3 243 503.5 250.7C503.6 258.5 503.1 278.4 503.1 283.9" fill="none" stroke="#1a1a1a" stroke-width="0.8" />
<path d="M541.7 229C541.8 234.3 542.1 250.6 542.3 261.1C542.5 271.6 542.6 286.7 542.7 291.8" fill="none" stroke="#1a1a1a" stroke-width="0.8" />
<path d="M556.6 242.4C556 245.6 554.2 253.1 553.1 261.1C552 269.1 550.5 285.7 550 290.6" fill="none" stroke="#1a1a1a" stroke-width="0.8" />
<path d="M504.8 318.2C506.2 315.1 509.4 309.2 511.4 306.6C513.4 303.9 517.3 299.7 519.7 298.3C522.1 296.8 527 295.8 529.7 295.8C532.3 295.8 537.4 296.4 539.6 298.3C541.8 300.1 544.9 305.7 546.3 309.9C547.6 314.1 549 323.8 549.6 329.8C550.1 335.8 550.5 348 550.4 354.7C550.3 361.3 549.8 374.1 548.8 379.6C547.8 385.1 545 392.9 542.9 396.2C540.8 399.5 536.1 403.5 533 404.5C529.9 405.5 523.5 405.2 519.7 403.7C515.9 402.1 507.9 397.4 504.8 392.9C501.7 388.3 497.5 375.8 496.5 369.6C495.5 363.4 496.7 351.7 497.3 346.4C497.9 341.1 499.6 333.6 500.6 329.8C501.6 326 503.3 321.3 504.8 318.2Z" fill="#fff" stroke="none" stroke-width="0.8" />
<path d="M504.8 318.2C505.7 316.6 509.4 309.2 511.4 306.6C513.4 303.9 517.3 299.7 519.7 298.3C522.1 296.8 527 295.8 529.7 295.8C532.3 295.8 537.4 296.4 539.6 298.3C541.8 300.1 544.9 305.7 546.3 309.9C547.6 314.1 549 323.8 549.6 329.8C550.1 335.8 550.5 348 550.4 354.7C550.3 361.3 549.8 374.1 548.8 379.6C547.8 385.1 545 392.9 542.9 396.2C540.8 399.5 536.1 403.5 533 404.5C529.9 405.5 523.5 405.2 519.7 403.7C515.9 402.1 507.9 397.4 504.8 392.9C501.7 388.3 497.6 372.7 496.5 369.6" fill="none" stroke="#1a1a1a" stroke-width="0.8" />
<path d="M516.4 304.9C517.1 307.7 519.6 314.6 520.5 321.5C521.5 328.4 522.2 338.9 522.2 346.4C522.2 353.9 521.5 360.2 520.5 366.3C519.6 372.4 517.9 377.9 516.4 382.9C514.9 387.9 512.2 394 511.4 396.2" fill="none" stroke="#1a1a1a" stroke-width="0.8" />
<path d="M523.9 394.5C523.9 393.3 524 391.5 525.5 390.4C527 389.3 530.6 388.2 533 387.9C535.3 387.6 538.4 388 539.6 388.7C540.9 389.4 541 390.7 540.5 392C539.9 393.4 538.1 395.9 536.3 397C534.5 398.1 531.5 398.5 529.7 398.7C527.9 398.8 526.5 398.5 525.5 397.8C524.6 397.2 523.9 395.8 523.9 394.5Z" fill="#fff" stroke="#1a1a1a" stroke-width="0.8" />
<path d="M526.7 394.5C526.8 393.7 527 392.3 528 391.5C529.1 390.8 531.4 390.3 533 390.2C534.6 390.1 536.8 390.4 537.6 390.9C538.5 391.3 538.4 392 538 392.9C537.5 393.7 536.3 395.2 535 395.9C533.7 396.5 531.3 396.8 530 396.8C528.7 396.9 527.9 396.6 527.3 396.2C526.8 395.8 526.6 395.3 526.7 394.5Z" fill="#fff" stroke="#1a1a1a" stroke-width="0.8" />
<path d="M497.3 294.1C505.3 293.7 513.2 293.2 521.4 292.9C529.5 292.7 538 292.6 546.3 292.4L546.6 296.6C538.2 296.8 529.6 297 521.4 297.3C513.2 297.5 505.3 297.9 497.3 298.3L497.3 294.1Z" fill="#fff" stroke="#1a1a1a" stroke-width="0.8" />
<path d="M499.8 296.1C503.4 295.9 513.9 295.4 521.4 295.1C528.8 294.9 540.7 294.7 544.6 294.6" fill="none" stroke="#1a1a1a" stroke-width="0.8" />
<path d="M489 338.1C489 328.7 488.7 313.9 489 309.9C489.3 305.8 490.6 304.3 491.5 303.2C492.4 302.2 495.3 300.7 496.5 300.7C497.6 300.7 500.7 302.2 501.5 303.2C502.2 304.3 502.9 307.5 503.1 309.9C503.3 312.2 503.1 318.9 503.1 323.5L496.5 333.1L489 338.1Z" fill="#fff" stroke="#1a1a1a" stroke-width="0.8" />
<path d="M491.5 336.4C491.6 332.3 491.8 316.5 492.3 311.5C492.9 306.6 493.8 307.4 494.8 306.6C495.8 305.7 497.3 305.7 498.1 306.6C499 307.4 499.5 308.4 499.8 311.5C500.1 314.6 499.8 322.9 499.8 325.1" fill="none" stroke="#1a1a1a" stroke-width="0.8" />
<path d="M494.8 318.2L494.8 333.4" fill="none" stroke="#1a1a1a" stroke-width="1.6" />
<path d="M503.3 309.9L503.8 321.5" fill="none" stroke="#1a1a1a" stroke-width="1.6" />
<path d="M497.3 313.2C498.2 313.2 501.9 313.2 502.8 313.2" fill="none" stroke="#1a1a1a" stroke-width="0.8" />
<path d="M463.3 361.3C463.3 358.2 465.3 357.7 466.6 356.3C467.9 355 471 352.7 473.2 351.4C475.4 350 480.8 347.7 483.2 346.4C485.6 345.1 489.7 343.2 491.5 341.4C493.3 339.6 494.9 335.2 496.5 333.1C498 331 501.3 326.9 503.1 325.6C504.9 324.4 508.1 323.4 509.8 323.5C511.4 323.6 514.6 325.2 515.6 326.5C516.6 327.8 517.3 330.9 517.2 333.1C517.1 335.3 515.9 340.4 514.7 343.1C513.5 345.7 510.1 350.4 508.1 353C506.1 355.7 501.8 360.3 499.8 363C497.8 365.6 494.7 370.3 493.2 372.9C491.6 375.6 489.5 379.8 488.2 382.9C486.8 386 484.2 392.6 483.2 396.2C482.2 399.7 481.8 409.5 480.7 409.5C479.6 409.5 476.8 400.2 474.9 396.2C473 392.2 468.1 384.2 466.6 379.6C465 374.9 463.3 364.4 463.3 361.3Z" fill="#fff" stroke="none" stroke-width="0.8" />
<path d="M463.3 361.3C463.7 360.7 465.3 357.7 466.6 356.3C467.9 355 471 352.7 473.2 351.4C475.4 350 480.8 347.7 483.2 346.4C485.6 345.1 489.7 343.2 491.5 341.4C493.3 339.6 494.9 335.2 496.5 333.1C498 331 501.3 326.9 503.1 325.6C504.9 324.4 508.1 323.4 509.8 323.5C511.4 323.6 514.6 325.2 515.6 326.5C516.6 327.8 517.3 330.9 517.2 333.1C517.1 335.3 515.9 340.4 514.7 343.1C513.5 345.7 510.1 350.4 508.1 353C506.1 355.7 501.8 360.3 499.8 363C497.8 365.6 494.7 370.3 493.2 372.9C491.6 375.6 489.5 379.8 488.2 382.9C486.8 386 484.2 392.6 483.2 396.2C482.2 399.7 480.9 405.9 480.7 409.5C480.5 413 480.9 419.9 481.5 422.7C482.2 425.6 484.4 429 485.7 431C487 433 490.7 436.8 491.5 437.7" fill="none" stroke="#1a1a1a" stroke-width="0.8" />
<path d="M471.6 349.7C472.7 350.3 476.3 351.6 478.2 353C480.2 354.4 482.4 357.2 483.2 358" fill="none" stroke="#1a1a1a" stroke-width="0.8" />
<path d="M466.6 355.5C468 356.1 472.4 357.6 474.9 358.8C477.4 360.1 481.5 361.9 481.5 363C481.5 364.1 477.1 365.5 474.9 365.5C472.7 365.5 469.4 363.4 468.3 363" fill="none" stroke="#1a1a1a" stroke-width="0.8" />
<path d="M469.9 368C471 368.2 474.6 369.8 476.6 369.6C478.5 369.5 480.7 367.6 481.5 367.1" fill="none" stroke="#1a1a1a" stroke-width="0.8" />
<path d="M453.3 338.9C454.4 339.5 456.9 341.4 460 342.2C463 343.1 467.4 344 471.6 343.9C475.7 343.8 482.6 342.1 484.9 341.7" fill="none" stroke="#1a1a1a" stroke-width="0.8" />
<path d="M450 353C451.7 353.9 458.3 357.2 460 358" fill="none" stroke="#1a1a1a" stroke-width="0.8" />
<path d="M587.3 294.9C591 295.1 595.9 293.5 598.5 295.5C601.2 297.5 605.5 305.4 607.2 309.8C609 314.2 610.9 323.5 611.6 328.5C612.2 333.4 612.5 342.2 612.2 347.1C612 352.1 610.5 360.8 609.7 365.8C608.9 370.8 607.3 380 606 384.5C604.6 389 601.9 396.4 599.8 399.4C597.6 402.4 593.1 404.4 589.8 406.9L587.3 294.9Z" fill="#d2d2d2" stroke="#1a1a1a" stroke-width="0.9" />
<path d="M586.1 292.4C586.7 291.3 588.3 287.6 589.8 286.1C591.2 284.7 593.1 283.7 594.8 283.7C596.4 283.7 598.1 284.3 599.8 286.1C601.4 288 603.9 293.4 604.7 294.9" fill="none" stroke="#1a1a1a" stroke-width="0.8" />
<path d="M591 293.6C591.7 293.3 593.5 291.7 594.8 291.7C596 291.7 597.9 293.3 598.5 293.6" fill="none" stroke="#1a1a1a" stroke-width="0.8" />
<ellipse cx="572.3" cy="349.0" rx="21.6" ry="70.2" fill="url(#hat3)" stroke="#1a1a1a" stroke-width="1.5"/>
<path d="M572.3 278.8A21.6 70.2 0 0 1 572.3 419.2A17.6 66.4 0 0 0 572.3 282.6Z" fill="#d2d2d2" stroke="none"/>
<ellipse cx="572.3" cy="349.0" rx="17.6" ry="66.4" fill="#d2d2d2" stroke="#1a1a1a" stroke-width="1.4"/>
<ellipse cx="571.9" cy="349.0" rx="14.6" ry="62.0" fill="#d2d2d2" stroke="#1a1a1a" stroke-width="0.9"/>
<ellipse cx="571.7" cy="349.0" rx="12.0" ry="57.0" fill="none" stroke="#1a1a1a" stroke-width="0.8"/>
<path d="M573.3 301.0A8 48 0 0 1 573.3 397.0" fill="none" stroke="#1a1a1a" stroke-width="0.8"/>
<path d="M574.3 313.0A5 36 0 0 1 574.3 385.0" fill="none" stroke="#1a1a1a" stroke-width="0.8"/>
<path d="M571.7 296.1C571.9 298.8 572.4 306.9 572.6 312.3C572.8 317.7 572.9 325.8 573 328.5" fill="none" stroke="#1a1a1a" stroke-width="1.2" />
<path d="M551.2 366.3C552.1 363.8 554.8 369.6 556.2 372.9C557.6 376.3 558.2 381.2 559.5 386.2C560.9 391.2 562.3 397.6 564.5 402.8C566.7 408.1 571.7 413.3 572.8 417.8C573.9 422.2 572.3 427.3 571.2 429.4C570.1 431.5 568.7 430.2 566.2 430.2C563.7 430.2 558.4 432.3 556.2 429.4C554 426.5 553.8 419.7 552.9 412.8C552 405.9 551.2 395.6 550.9 387.9C550.6 380.1 550.4 368.8 551.2 366.3Z" fill="url(#hat1)" stroke="none" stroke-width="0.8" />
<path d="M552.9 336.4C554 333.8 556.2 333.9 557.9 333.9C559.5 333.9 561.9 333.8 562.9 336.4C563.9 339.1 563.9 345.6 563.9 349.7C563.9 353.9 563.9 359 562.9 361.3C561.9 363.7 559.5 363.7 557.9 363.8C556.2 364 554 364.5 552.9 362.2C551.8 359.8 551.2 354 551.2 349.7C551.2 345.4 551.8 339.1 552.9 336.4Z" fill="#fff" stroke="#1a1a1a" stroke-width="0.9" />
<path d="M559.5 331.5L564.5 329L581.1 329.8L583.6 333.1L583.6 344.7L579.5 346.4L577.8 366.3L579.5 370.5L576.1 374.6L561.2 374.6L557.9 369.6L564.5 366.3L566.2 345.6L562.9 343.1L559.5 331.5Z" fill="#cfcfcf" stroke="#1a1a1a" stroke-width="1.1" />
<path d="M564.5 329C564.8 331.7 565.9 342.8 566.2 345.6" fill="none" stroke="#1a1a1a" stroke-width="1.0" />
<path d="M581.1 329.8C580.8 332.6 579.7 343.6 579.5 346.4" fill="none" stroke="#1a1a1a" stroke-width="1.0" />
<path d="M562.9 337.3C566.3 337.4 580.2 338 583.6 338.1" fill="none" stroke="#1a1a1a" stroke-width="1.0" />
<path d="M564.5 366.3C566.7 366.3 575.6 366.3 577.8 366.3" fill="none" stroke="#1a1a1a" stroke-width="1.0" />
<path d="M559.5 371C562.8 371 575.9 371 579.1 371" fill="none" stroke="#1a1a1a" stroke-width="0.9" />
<path d="M544 437.2C545.5 432 553.9 432.9 557.1 431.6C560.3 430.4 565.3 429.6 568.3 427.9C571.3 426.1 576.8 420.9 579.5 418.5C582.2 416.2 586.3 411.8 588.8 410.1C591.3 408.5 596 406.8 598.2 406.4C600.3 406 603.2 406.5 604.7 407.3C606.2 408.2 608.9 410.7 609.4 412.9C609.9 415.2 609.3 420.9 608.4 424.1C607.6 427.4 604.3 434.2 602.8 437.2C601.3 440.2 598.8 444.3 597.2 446.5C595.6 448.8 593.1 452.5 590.7 454C588.3 455.5 583 456.5 579.5 457.8C576 459 569 461.6 564.6 463.4C560.1 465.1 548.6 474.3 545.9 470.8C543.1 467.3 542.5 442.4 544 437.2Z" fill="#fff" stroke="none" stroke-width="0.8" />
<path d="M510.4 440.9C512.4 440.8 520.9 440.5 525.3 440C529.8 439.5 539.8 438.3 544 437.2C548.2 436.1 553.9 432.9 557.1 431.6C560.3 430.4 565.3 429.6 568.3 427.9C571.3 426.1 576.8 420.9 579.5 418.5C582.2 416.2 586.3 411.8 588.8 410.1C591.3 408.5 596 406.8 598.2 406.4C600.3 406 603.2 406.5 604.7 407.3C606.2 408.2 608.9 410.7 609.4 412.9C609.9 415.2 609.3 420.9 608.4 424.1C607.6 427.4 604.3 434.2 602.8 437.2C601.3 440.2 598.8 444.3 597.2 446.5C595.6 448.8 593.1 452.5 590.7 454C588.3 455.5 583 456.5 579.5 457.8C576 459 569 461.6 564.6 463.4C560.1 465.1 550.4 468.8 545.9 470.8C541.4 472.8 534.7 476.3 530.9 478.3C527.2 480.3 519.6 484.8 517.9 485.8" fill="none" stroke="#1a1a1a" stroke-width="0.8" />
<path d="M502.9 439.1C504.8 440.3 512.3 445.3 514.1 446.5" fill="none" stroke="#1a1a1a" stroke-width="0.8" />
<path d="M572 426C573.3 427.3 578.2 432.2 579.5 433.5" fill="none" stroke="#1a1a1a" stroke-width="0.8" />
<path d="M575.8 424.1C576.8 424.8 580.7 427.6 581.7 428.3" fill="none" stroke="#1a1a1a" stroke-width="0.8" />
<path d="M579.5 444.7C580.7 445.9 584.5 451.5 587 452.2C589.4 452.8 593.2 449 594.4 448.4" fill="none" stroke="#1a1a1a" stroke-width="0.8" />
<path d="M585.1 440.9C586 441.9 589.8 445.6 590.7 446.5" fill="none" stroke="#1a1a1a" stroke-width="0.8" />
<path d="M594.4 448.4C595.1 450 598.8 455.7 598.2 457.8C597.5 459.8 591.9 460.1 590.7 460.6" fill="none" stroke="#1a1a1a" stroke-width="0.8" />
<path d="M562.7 476.4C563.5 477.4 566.7 479.5 567.4 482C568 484.5 567 491 566.4 491.4C565.8 491.7 564.2 486.4 563.6 483.9C563 481.4 562.8 477.7 562.7 476.4" fill="none" stroke="#1a1a1a" stroke-width="0.8" />
<path d="M480.5 407.3C480.8 405.2 480.8 398.9 482.4 394.3C484 389.6 487.7 383.7 489.9 379.3C492.1 375 494.5 370 495.5 368.1" fill="none" stroke="#1a1a1a" stroke-width="0.8" />
<path d="M651 434C650.1 439.3 647.9 455.6 645.8 466.1C643.7 476.7 641.3 487.9 638.5 497.2C635.8 506.6 631.3 516.8 629.2 522.1C627.1 527.5 626.6 528.2 626.1 529.4" fill="none" stroke="#1a1a1a" stroke-width="0.8" />
<path d="M644.8 434C643.9 439.3 641.8 455.6 639.6 466.1C637.3 476.7 634.2 488.6 631.3 497.2C628.3 505.9 624.5 512.6 622 518C619.4 523.3 616.8 527.5 615.7 529.4" fill="none" stroke="#1a1a1a" stroke-width="0.8" />
<path d="M640 434C639.1 438.6 636.5 452.8 634.4 462C632.3 471.1 629.6 481.6 627.1 488.9C624.7 496.3 623 502.1 619.9 506C616.8 509.8 611.4 510.2 608.5 512.2C605.5 514.2 603.3 517 602.2 518" fill="none" stroke="#1a1a1a" stroke-width="0.8" />
<path d="M602.2 434C602.4 436.2 602.2 442.8 603.3 447.4C604.3 452.1 606.4 457.8 608.5 462C610.5 466.1 613.5 471.7 615.7 472.3C618 473 620.4 469.6 622 466.1C623.5 462.7 624.7 457 625.1 451.6C625.4 446.2 624.2 436.9 624 434" fill="none" stroke="#1a1a1a" stroke-width="0.8" />
<path d="M595 453.7C595.5 456.8 596.5 466.5 598.1 472.3C599.6 478.2 601.9 484.1 604.3 488.9C606.7 493.8 610 498.5 612.6 501.4C615.2 504.3 618.7 505.7 619.9 506.6" fill="none" stroke="#1a1a1a" stroke-width="0.8" />
<path d="M576.3 468.2C577.2 471.7 579.5 482.5 581.5 488.9C583.5 495.3 587 503.6 588.1 506.6" fill="none" stroke="#1a1a1a" stroke-width="0.8" />
<path d="M562.8 475.5C563.9 478.7 566.8 488.8 569 495.2C571.3 501.6 573.8 508.1 576.3 513.8C578.8 519.5 582.7 526.8 584 529.4" fill="none" stroke="#1a1a1a" stroke-width="0.8" />
<path d="M565.9 475.5C566.3 476.7 567.9 480.5 568 482.7C568.1 485 566.8 487.9 566.6 488.9" fill="none" stroke="#1a1a1a" stroke-width="0.8" />
<path d="M582.5 501.8L606.8 517.6L600.2 527.3L579.4 512.2L582.5 501.8Z" fill="url(#hat1)" stroke="#1a1a1a" stroke-width="1.0" />
<path d="M586.7 526.3C587 525.8 587.9 523.5 588.8 523.2C589.6 522.9 591.6 523.8 591.9 524.6C592.1 525.5 590.5 527.7 590.2 528.4" fill="none" stroke="#1a1a1a" stroke-width="0.8" />
<text opacity="0.99" x="625.9" y="495.6" font-family="Liberation Sans, sans-serif" font-size="3.4" font-weight="bold" fill="#1a1a1a" stroke="none" transform="rotate(-72 625.9 495.6)">smarTrike 10x2</text>
<path d="M772.6 234C772.7 237.6 772.9 248.7 773.2 255.7C773.5 262.8 774 270.4 774.2 276.5C774.5 282.5 774.8 289.5 774.9 292.1" fill="none" stroke="#1a1a1a" stroke-width="0.8" />
<path d="M739 292.3C742.6 292.1 754.3 290.9 760.7 291C767.1 291.2 774.4 292.1 777.3 293.1C780.3 294.1 778.4 296.1 778.6 297.2C778.8 298.3 778.6 299.3 778.6 299.7" fill="none" stroke="#1a1a1a" stroke-width="0.8" />
<path d="M739 297.2C742.6 297.1 754.3 296 760.7 296.2C767.2 296.4 774.9 297.9 777.8 298.3" fill="none" stroke="#1a1a1a" stroke-width="0.8" />
<path d="M778.6 299.7C779.1 302.8 780.7 311.5 781.5 318C782.3 324.5 783.4 331.8 783.6 338.7C783.7 345.7 783.2 352.6 782.5 359.5C781.8 366.4 781.3 374 779.4 380.2C777.5 386.5 774.2 392.8 771.1 396.8C768 400.8 764.6 402.7 760.7 404.1C756.9 405.5 751.9 405.6 748.3 405.1C744.7 404.6 740.5 401.7 739 401" fill="none" stroke="#1a1a1a" stroke-width="0.8" />
<path d="M748.3 301.4C748.8 304.2 750.7 311.8 751.4 318C752.2 324.2 752.9 331.1 752.9 338.7C752.9 346.3 752.5 356 751.4 363.6C750.3 371.2 748.3 378.8 746.2 384.4C744.1 390 740.2 395.1 739 397.2" fill="none" stroke="#1a1a1a" stroke-width="0.8" />
<path d="M739 299.7C739.8 299.9 742.6 300.7 744.1 301C745.7 301.3 747.6 301.3 748.3 301.4" fill="none" stroke="#1a1a1a" stroke-width="0.8" />
<path d="M779.4 301.4C780.5 301.6 784.3 301.4 785.6 302.4C787 303.5 787.2 303.3 787.7 307.6C788.2 311.9 788.7 321.8 788.8 328.4C788.8 334.9 788.1 341.5 788.1 347C788.2 352.6 789.5 359 789 361.6C788.4 364.1 785.6 365.7 784.8 362.6C784 359.5 784.1 346.2 784 342.9" fill="none" stroke="#1a1a1a" stroke-width="0.8" />
<path d="M781.5 303.5C781.7 306.9 782.1 317.6 782.5 324.2C782.9 330.8 783.7 339.8 784 342.9" fill="none" stroke="#1a1a1a" stroke-width="0.8" />
<path d="M785.2 348.1C785.9 348.1 788.3 348.1 789 348.1" fill="none" stroke="#1a1a1a" stroke-width="0.8" />
<path d="M755.6 392.7C756.1 392 756.8 389.4 758.7 388.5C760.6 387.7 764.7 387.3 767 387.5C769.2 387.7 771.5 388.4 772.2 389.6C772.8 390.8 772.3 393.2 771.1 394.8C769.9 396.3 767 398.2 764.9 398.9C762.8 399.6 760.2 399.9 758.7 398.9C757.1 397.9 756.1 393.7 755.6 392.7" fill="none" stroke="#1a1a1a" stroke-width="0.8" />
<path d="M757.6 393.1C758.2 392.6 759.2 390.8 760.7 390.2C762.3 389.6 765.6 389.3 767 389.6C768.4 389.8 769.5 390.5 769 391.6C768.6 392.8 766 395.5 764.5 396.4C762.9 397.3 760.9 397.4 759.7 396.8C758.6 396.3 758 393.7 757.6 393.1" fill="none" stroke="#1a1a1a" stroke-width="0.8" />
<path d="M736.9 298C737.3 302.5 738.9 315.2 739.2 324.9C739.4 334.7 738.9 347.6 738.5 356.6C738.2 365.5 736.8 372.4 736.9 378.7C737 385 737.7 390.6 739.2 394.5C740.6 398.5 744.4 401.1 745.5 402.4" fill="none" stroke="#1a1a1a" stroke-width="0.8" />
<path d="M739.8 324.9L740.4 378.7" fill="none" stroke="#1a1a1a" stroke-width="1.5" />
<path d="M788.5 342.3C795.6 342.3 806.1 341.9 809.7 342.3C813.3 342.7 814.3 344.1 815.8 345.3C817.2 346.5 819.6 349.3 820.6 351.4C821.7 353.5 823.2 357.8 823.6 361.1C824.1 364.3 824.3 371.4 824.2 375.6C824.2 379.8 823.4 388.1 823 392.6C822.7 397.1 821.9 406.3 821.8 409.5C821.7 412.8 823.1 413.6 822.4 416.8C821.8 420.1 818.5 432.3 817 433.8C815.4 435.2 812.2 429.8 810.9 427.7C809.6 425.6 807.7 420.9 807.3 418C806.9 415.1 807.6 409.9 807.9 405.9C808.2 401.9 809.3 392.6 809.7 387.7C810.1 382.9 810.8 373.1 810.9 369.5C811 366 810.8 362.7 810.3 361.1C809.8 359.4 810.2 357.9 807.3 357.4C804.4 356.9 794.7 357.4 788.5 357.4L788.5 342.3Z" fill="#fff" stroke="none" stroke-width="0.8" />
<path d="M788.5 342.3C792 342.3 805.2 341.8 809.7 342.3C814.2 342.8 813.9 343.8 815.8 345.3C817.6 346.8 819.3 348.7 820.6 351.4C821.9 354 823.1 359.4 823.6 361.1" fill="none" stroke="#1a1a1a" stroke-width="0.8" />
<path d="M788.5 357.4C791.6 357.4 803.6 356.8 807.3 357.4C810.9 358 809.7 359 810.3 361.1C810.9 363.1 811 365.1 810.9 369.5C810.8 374 810.2 381.7 809.7 387.7C809.2 393.8 808.3 400.9 807.9 405.9C807.5 411 806.8 414.4 807.3 418C807.8 421.7 809.3 425.1 810.9 427.7C812.5 430.4 815.4 432.4 817 433.8C818.6 435.2 820 435.8 820.6 436.2" fill="none" stroke="#1a1a1a" stroke-width="0.8" />
<path d="M821.2 436.2C820.7 435.9 819.3 434.6 818.2 434.4C817.1 434.2 814.9 433.9 814.5 435C814.1 436.1 814.7 439.2 815.8 441.1C816.8 442.9 818.6 444.5 820.6 445.9C822.6 447.3 825.3 448.5 827.9 449.5C830.5 450.6 834 451.4 836.4 452C838.7 452.6 840.9 453 841.8 453.2" fill="none" stroke="#1a1a1a" stroke-width="0.8" />
<path d="M821.8 448.3C821.7 449.9 820.8 455.2 821.2 458C821.6 460.9 822.5 463.5 824.2 465.3C826 467.1 828.6 468.1 831.5 468.9C834.4 469.7 840.1 469.9 841.8 470.2" fill="none" stroke="#1a1a1a" stroke-width="0.8" />
<path d="M830.3 460.5L834.5 460.5L834.5 467.7L830.3 467.5L830.3 460.5Z" fill="#fff" stroke="#1a1a1a" stroke-width="0.9" />
<path d="M826.1 446.5L840 450.8" fill="none" stroke="#1a1a1a" stroke-width="1.8" />
<path d="M818.2 437.4C819.2 437.8 822.4 440.1 824.2 439.8C826.1 439.6 828.1 438.8 829.1 436.2C830.1 433.6 830.1 426.1 830.3 424.1" fill="none" stroke="#1a1a1a" stroke-width="0.8" />
<path d="M832.7 427.7C834.1 428.3 839.8 430.8 841.2 431.4" fill="none" stroke="#1a1a1a" stroke-width="0.8" />
<path d="M831.8 436.2C833.3 436.8 839.6 439.2 841.2 439.8" fill="none" stroke="#1a1a1a" stroke-width="0.8" />
<path d="M836.4 421.7C837 421.1 839 418.8 840 418C841 417.2 842 417 842.4 416.8" fill="none" stroke="#1a1a1a" stroke-width="0.8" />
<path d="M829.1 438.6C829.9 439.8 831.9 444.3 833.9 445.9C836 447.5 840 447.9 841.2 448.3" fill="none" stroke="#1a1a1a" stroke-width="0.8" />
<path d="M838.2 331.4C836.4 332.2 833.9 336.3 832.7 339.2C831.5 342.2 830.1 349.3 829.1 353.8C828.1 358.3 826.3 368 825.5 373.2C824.6 378.4 823.5 387.7 823 392.6C822.5 397.4 821.9 406.3 821.8 409.5C821.7 412.8 821.9 415.4 822.4 416.8C822.9 418.3 822.8 419.5 825.5 420.5C828.1 421.4 839 430.1 842.4 424.1C845.8 418.1 850.4 387.7 850.9 375.6C851.4 363.5 847.8 339.1 846.1 333.2C844.4 327.3 840 330.6 838.2 331.4Z" fill="#fff" stroke="#1a1a1a" stroke-width="0.85" />
<path d="M836.4 334.4C838 333.6 843.3 334.9 844.8 336.8C846.4 338.8 847.4 345.1 847.9 348.9C848.4 352.8 848.5 361.4 848.5 365.9C848.5 370.4 848.2 378.4 847.9 382.9C847.6 387.4 846.6 396 846.1 399.8C845.5 403.7 845.3 410.5 843.6 412C842 413.4 836.5 411.2 833.9 410.8C831.4 410.3 825.7 409.8 824.2 408.3C822.8 406.9 822.9 403.9 823 399.8C823.2 395.8 824.6 383.5 825.5 378C826.3 372.5 828.1 363.3 829.1 358.6C830.1 353.9 831.8 346.1 832.7 342.9C833.7 339.6 834.7 335.2 836.4 334.4Z" fill="url(#hat1)" stroke="#1a1a1a" stroke-width="0.8" />
<path d="M836.4 339.2C836.2 341.7 835.8 348.1 835.2 353.8C834.5 359.4 833.5 366.7 832.7 373.2C831.9 379.6 830.9 386.9 830.3 392.6C829.7 398.2 829.3 404.7 829.1 407.1" fill="none" stroke="#1a1a1a" stroke-width="1.5" />
<path d="M842.4 341.7C842.3 344.9 842.2 354.2 841.8 361.1C841.4 367.9 840.7 375.2 840 382.9C839.3 390.6 838 403.1 837.6 407.1" fill="none" stroke="#1a1a1a" stroke-width="1.5" />
<path d="M827.3 368.3L847.9 363.5" fill="none" stroke="#1a1a1a" stroke-width="1.2" />
<path d="M824.8 387.7L847.3 385.3" fill="none" stroke="#1a1a1a" stroke-width="1.2" />
<path d="M823.6 402.3L845.5 402.3" fill="none" stroke="#1a1a1a" stroke-width="1.4" />
<path d="M833.3 341.1C833.7 339.2 835.7 338.6 836.4 338.6C837 338.6 838.6 339.2 838.8 341.1C839 343 838.6 352.8 838.2 355C837.8 357.2 835.8 359.8 835.2 359.8C834.5 359.8 833.2 357.2 833 355C832.8 352.8 832.9 343 833.3 341.1Z" fill="#fff" stroke="#1a1a1a" stroke-width="0.9" />
<path d="M830.3 392.6L836.4 392L836.1 395L830.3 395.6L830.3 392.6Z" fill="#fff" stroke="none" stroke-width="0.8" />
<path d="M830.3 398.6L836.4 398L836.1 401.1L830.3 401.7L830.3 398.6Z" fill="#fff" stroke="none" stroke-width="0.8" />
<path d="M822.4 415.6C823.9 416 828.2 417.8 831.5 418C834.8 418.2 840.6 417 842.4 416.8" fill="none" stroke="#1a1a1a" stroke-width="0.8" />
<path d="M824.2 412C825.9 412.3 830.7 413.8 833.9 413.8C837.2 413.8 842 412.3 843.6 412" fill="none" stroke="#1a1a1a" stroke-width="0.8" />
<path d="M838.2 331.4C837.9 330.4 840.6 328.9 842.4 328.3C844.3 327.8 849.1 327.1 852.1 327.1C855.2 327.1 862.4 327.8 865.5 328.3C868.5 328.8 873.1 329.8 875.2 330.8C877.2 331.7 879.5 333.7 880.6 335.6C881.7 337.5 883.1 341.6 883.6 345.3C884.2 349 884.8 358.5 884.8 363.5C884.9 368.5 884.6 377.7 884.2 382.9C883.9 388.1 883 397.6 882.4 402.3C881.9 407 880.6 413.5 880 418C879.4 422.6 878.1 432.2 877.6 436.2C877.1 440.3 876.7 445.4 876.4 448.3C876 451.2 875.8 455.8 875.2 458C874.5 460.3 872.8 463.7 871.5 465.3C870.2 466.9 867.4 469.4 865.5 470.2C863.5 470.9 859.2 471.1 857 470.8C854.7 470.4 850.3 468.9 848.5 467.7C846.7 466.5 844.5 463.8 843.6 461.7C842.7 459.6 842 455.4 841.8 452C841.7 448.6 842 440.7 842.4 436.2C842.8 431.7 844.1 422.9 844.8 418C845.6 413.2 847.2 404.7 847.9 399.8C848.5 395 849.4 386.5 849.7 381.7C850 376.8 850.5 368.2 850.3 363.5C850.1 358.8 849.2 350.2 848.5 346.5C847.8 342.8 846.2 337.6 844.8 335.6C843.5 333.6 838.5 332.3 838.2 331.4Z" fill="#fff" stroke="#1a1a1a" stroke-width="0.9" />
<path d="M846.7 330.8C847.3 332.2 849.4 335.4 850.3 339.2C851.2 343.1 851.8 347.7 852.1 353.8C852.4 359.8 852.4 367.9 852.1 375.6C851.8 383.3 851.1 392.8 850.3 399.8C849.5 406.9 848.2 412 847.3 418C846.4 424.1 845.4 430.6 844.8 436.2C844.3 441.9 843.9 447.9 844.2 452C844.5 456 845.4 458 846.7 460.5C848 462.9 850.2 465.2 852.1 466.5C854 467.8 857.2 468 858.2 468.3" fill="none" stroke="#1a1a1a" stroke-width="0.8" />
<path d="M883.9 342.9C884 344.3 884.7 348.3 884.8 351.4C884.9 354.4 884.5 359.4 884.5 361.1" fill="none" stroke="#1a1a1a" stroke-width="1.3" stroke-dasharray="1 1.2"/>
<path d="M884.8 363.5C884.9 366.7 885.3 376.8 885.1 382.9C884.9 388.9 883.9 397 883.6 399.8" fill="none" stroke="#1a1a1a" stroke-width="1.3" stroke-dasharray="1 1.2"/>
<path d="M877.6 427.7C878.2 427.9 880.2 427.9 881.2 428.9C882.2 429.9 883.4 431.6 883.6 433.8C883.8 436 883 440.1 882.4 442.3C881.8 444.5 880.7 446.5 880 447.1C879.3 447.7 878.5 446.1 878.2 445.9" fill="none" stroke="#1a1a1a" stroke-width="0.8" />
<path d="M879.4 430.2C879.7 431 881.3 433 881.5 435C881.7 437 880.7 441.1 880.6 442.3" fill="none" stroke="#1a1a1a" stroke-width="0.8" />
<path d="M485.8 281.6H572" stroke="#1a1a1a" stroke-width="3.8" style="stroke-linecap:butt"/>
<path d="M465.8 281.6L494.8 269.6L488.8 281.6L494.8 293.6Z" fill="#1a1a1a" stroke="none"/>
<path d="M487.0 418.6H572" stroke="#1a1a1a" stroke-width="3.8" style="stroke-linecap:butt"/>
<path d="M467.0 418.6L496.0 406.6L490.0 418.6L496.0 430.6Z" fill="#1a1a1a" stroke="none"/>
</g>
<path d="M575.9 528.8H910a20 20 0 0 1 20 20V626.6H575.9a20 20 0 0 1-20-20V548.8a20 20 0 0 1 20-20Z" fill="#1d1d1b"/>
<rect x="342.1" y="40.1" width="36.7" height="43.8" fill="#15120f"/>
</g>
<!-- p_p2 -->
<g>
<defs><clipPath id="c2"><rect x="46" y="717" width="441.5" height="586.3"/></clipPath></defs>
<g clip-path="url(#c2)" fill="none" stroke="#1a1a1a" stroke-width="0.8">
<path d="M52.4 714.1C58 729.7 65.9 751.7 69 760.8C72.2 770 73.1 774 76.3 782.6C79.5 791.2 88.1 814.1 92.9 825.1C97.7 836.2 107.1 854.3 112.6 865.6C118.1 876.9 129.7 901 134.4 910.2C139.1 919.4 142.8 925.7 147.9 934.9C153 944.1 164.5 964.6 172.8 979.5L204.7 980.2C213 992.2 223.1 1006.3 229.6 1016C236 1025.8 249.3 1047.3 252.9 1053.4C256.5 1059.4 256 1058.2 256.8 1061.1C257.6 1064 258.4 1070.5 259.1 1075.1L286.7 1038.6C287.7 1034.5 288.5 1028.9 289.8 1026.2C291 1023.4 293.5 1020.1 296 1017.9C298.5 1015.7 304.9 1011.5 308.5 1009.6C312.1 1007.7 318.8 1005.2 323 1003.8C327.1 1002.4 331.3 1001.2 339.6 999.2C347.9 997.2 370 992.3 385.2 988.8C382.5 981.2 379 972.1 376.9 966C374.9 959.9 371.2 948.5 369.7 943.2C368.1 937.9 366.3 931 365.5 926.6C364.8 922.2 364.2 916.2 364.1 910C363.9 903.8 364.3 887.4 364.5 880.1C364.7 872.8 365.1 861.9 365.5 855.2C365.9 848.6 367 837 367.6 830.3C368.1 823.7 369.4 811.5 369.7 805.4C369.9 799.3 370.1 789.9 369.7 784.7C369.3 779.4 367.8 771 366.6 766C365.3 761 362.3 752 360.3 747.3C358.4 742.6 354.4 734.8 352 730.7C349.7 726.7 345.8 721.3 342.7 716.6L342.7 714.1L52.4 714.1Z" fill="#e0e0e0" stroke="none" stroke-width="0.8" />
<path d="M69 760.8C70 763.7 73.1 774 76.3 782.6C79.5 791.2 88.1 814.1 92.9 825.1C97.7 836.2 107.1 854.3 112.6 865.6C118.1 876.9 131.5 904.3 134.4 910.2" fill="none" stroke="#1a1a1a" stroke-width="0.8" />
<path d="M134.4 910C136.2 913.3 142.8 925.6 147.9 934.9C153 944.2 169.5 973.6 172.8 979.5" fill="none" stroke="#1a1a1a" stroke-width="0.8" />
<path d="M342.7 716.6C344.3 719 349.1 725.6 352 730.7C355 735.9 357.9 741.5 360.3 747.3C362.8 753.2 365 759.8 366.6 766C368.1 772.2 369.1 778.1 369.7 784.7C370.2 791.3 370 797.8 369.7 805.4C369.3 813 368.3 822 367.6 830.3C366.9 838.6 366 846.9 365.5 855.2C365 863.5 364.7 871 364.5 880.1C364.2 889.3 363.9 902.3 364.1 910C364.2 917.7 364.6 921.1 365.5 926.6C366.5 932.1 367.8 936.6 369.7 943.2C371.6 949.8 374.3 958.4 376.9 966C379.5 973.6 383.8 985 385.2 988.8" fill="none" stroke="#1a1a1a" stroke-width="0.8" />
<path d="M351 728.7C351.9 729 353.9 727.6 356.2 730.7C358.4 733.9 362.2 741.8 364.5 747.3C366.7 752.9 368.9 760.1 369.7 763.9C370.4 767.7 369.1 769.1 369 770.2" fill="none" stroke="#1a1a1a" stroke-width="0.8" />
<path d="M76.3 785.7C76.4 786.9 76.3 789.7 77.3 793C78.4 796.3 83.9 810.1 85.6 813.7C87.3 817.4 90.9 822.6 91.9 824.1C92.9 825.6 94.2 826.5 94.4 826.6C94.5 826.7 95 830.3 92.9 825.1C90.8 820 78.2 787.2 76.3 782.6C74.4 778 76.2 784.5 76.3 785.7Z" fill="#fff" stroke="#1a1a1a" stroke-width="0.8" />
<text opacity="0.99" x="131.5" y="811.5" font-family="Liberation Sans, sans-serif" font-weight="bold" font-size="38" fill="#b4b4b4" stroke="none" transform="rotate(-9.7 131.5 811.5)" textLength="177" lengthAdjust="spacingAndGlyphs">smarTrike</text>
<path d="M131.3 780.5L141.7 763.5L183.6 832.4L172.8 845.9L131.3 780.5Z" fill="#ededed" stroke="#1a1a1a" stroke-width="0.8" />
<path d="M128.8 780.5C130 777.8 130.9 775.3 132.3 772.2C133.8 769.2 136 764.5 137.5 762.3C139 760 140 759.9 141.2 758.8C141.5 760.5 142.6 761.3 142.1 763.9C141.5 766.5 139.5 771.5 137.9 774.3C136.4 777.1 134.3 779.5 132.7 780.5C131.2 781.6 130.1 780.5 128.8 780.5Z" fill="#15120f"/>
<path d="M212.2 910.2L232.9 909.2L240.2 939L251.4 948.4L300.2 1013.7L290.8 1025.1L241 954.6L227.8 943.2L212.2 910.2Z" fill="#ededed" stroke="#1a1a1a" stroke-width="0.8" />
<path d="M172.8 845.9C171.9 848.4 170.4 852.7 170.3 855.2C170.2 857.7 170.3 861.8 171.7 864.6C173.2 867.3 178.2 872.5 181.1 876C184 879.4 190.2 886.6 193.5 890.5C196.8 894.4 203.5 902.3 206 905C208.5 907.7 210 909.9 212.2 910.8C214.4 911.8 219.1 911.8 222.6 912.3L233.4 909.6C231.1 905.3 229 901.2 226.7 896.7C224.5 892.2 219.1 881.5 216.3 876C213.6 870.4 208.5 859.9 206 855.2C203.5 850.5 199.5 843.7 197.7 840.7C195.9 837.7 194.1 833.7 192.5 832.4C190.8 831.2 187.3 830.8 185.2 831.4C183.2 831.9 178.6 834.6 176.9 836.6C175.3 838.5 173.7 843.4 172.8 845.9Z" fill="#d0d0d0" stroke="#1a1a1a" stroke-width="0.8" />
<path d="M175.3 843.8C175 845.7 173.4 851.8 173.8 855.2C174.3 858.7 175.4 860.8 178 864.6C180.6 868.4 185.1 873 189.4 878C193.7 883.1 199.4 889.4 203.9 894.6C208.4 899.9 214.3 907.1 216.3 909.6" fill="none" stroke="#1a1a1a" stroke-width="0.8" />
<path d="M215.3 910C216.5 910.4 219.6 912.5 222.6 912.5C225.6 912.5 231.6 910.4 233.4 910" fill="none" stroke="#1a1a1a" stroke-width="0.8" />
<path d="M249.3 746.3L273.2 750.5L280.9 814.8L262.8 818.9L249.3 746.3Z" fill="#ededed" stroke="#1a1a1a" stroke-width="0.8" />
<path d="M242.1 741.1C245.5 741.3 248.3 741 252.4 741.5C256.6 742.1 262.5 743.1 267 744.2C271.5 745.4 276.8 747.2 279.4 748.4C282 749.5 281.5 750.2 282.5 751.1C278.7 750.9 275.4 751.2 271.1 750.7C266.8 750.1 260.7 748.8 256.6 747.8C252.4 746.7 248.6 745.5 246.2 744.4C243.8 743.3 243.5 742.2 242.1 741.1Z" fill="#15120f"/>
<path d="M282.5 898.8L296 890.5C299.1 903.2 303.7 923.3 305.4 928.7C307 934 311.1 940.9 312.6 944.2C314.2 947.6 319 958.2 320.9 961.9C322.8 965.5 329.2 977 331.3 980.5C333.4 984.1 338.2 991.6 341.7 997.1L331.3 1000.5C327.8 995.2 323.2 988.3 320.9 984.7C318.6 981 310.5 967.9 308.5 963.9C306.4 960 301.6 948.6 300.2 945.3C298.7 942 295.7 935.4 293.9 930.7C292.2 926.1 286.3 909.4 282.5 898.8Z" fill="#ededed" stroke="#1a1a1a" stroke-width="0.8" />
<path d="M281.5 814.8C281.4 812.7 289.7 817.1 291.9 818.9C294.1 820.7 297 824.8 298.1 828.3C299.2 831.7 300 839 300.2 844.9C300.3 850.7 299.5 866.3 299.1 871.8C298.7 877.4 297.7 884.1 297.1 886.3C296.4 888.6 294.9 895.3 294.4 888.4C293.8 881.5 294.6 844.3 292.9 834.5C291.2 824.7 281.6 816.8 281.5 814.8Z" fill="#d0d0d0" stroke="#1a1a1a" stroke-width="0.8" />
<path d="M261.8 817.9C261.4 814.6 262.6 814.6 263.9 813.7C265.1 812.9 268.8 811.5 271.1 811.7C273.5 811.8 278.7 813.4 281.5 814.8C284.3 816.2 290.1 820 291.9 822C293.7 824.1 294.4 826.5 295 830.3C295.5 834.2 295.8 845 296 851.1C296.2 857.2 296.6 871.3 296.4 876C296.3 880.7 296.6 883.4 295 886.3C293.4 889.3 288.1 894 284.6 897.8L281.5 899.2C279.1 888.7 276.2 875.8 274.2 867.7C272.3 859.6 268.6 845.3 267 838.6C265.3 832 262.2 821.2 261.8 817.9Z" fill="#d0d0d0" stroke="#1a1a1a" stroke-width="0.8" />
<path d="M293.5 932.8C293.7 931.8 294.4 931 296 930.7C297.6 930.5 311 929.6 312.6 929.7C314.2 929.8 314.8 930.8 315.1 931.8C315.4 932.7 315.8 940.1 315.7 941.1C315.6 942.1 315.2 943.3 313.7 943.6C312.1 943.9 298.7 944.9 297.1 944.9C295.4 944.8 294.2 943.8 293.9 942.8C293.6 941.8 293.4 933.8 293.5 932.8Z" fill="#ededed" stroke="#1a1a1a" stroke-width="1.0" />
<path d="M227.8 942.2C228.2 941.2 232.9 940.5 235 940.1C237.2 939.7 247.5 937.9 249.3 938C251.2 938.1 253 940.2 253.5 941.1C254 942.1 254.8 946.3 254.5 947.3C254.2 948.4 251.8 950.8 250.4 951.5C248.9 952.2 241.4 954.4 240 954.6C238.6 954.8 237 954.1 236.1 953.6C235.1 953 231.7 950.6 230.9 949.4C230 948.3 227.3 943.1 227.8 942.2Z" fill="#ededed" stroke="#1a1a1a" stroke-width="1.0" />
<path d="M51.4 761.9C73.5 811.3 99.6 870.3 117.8 910.2C136 950.1 146.2 970.9 160.3 1001.3" fill="none" stroke="#1a1a1a" stroke-width="0.8" />
<path d="M45.8 826.2C58.4 854.2 70.7 882.4 83.6 910.2C96.4 938 112.3 970.5 123 993C133.7 1015.4 141.8 1031.4 147.9 1044.9C153.9 1058.3 155.5 1064.2 159.3 1073.9" fill="none" stroke="#1a1a1a" stroke-width="0.8" />
<path d="M329.2 1055.2C331.9 1052.9 342.8 1049.2 347.9 1048C353 1046.8 368.4 1044 372.8 1044.9C377.1 1045.7 381.4 1051.8 385.2 1055.2C389.1 1058.6 401.1 1069.8 406 1073.9C410.8 1078 425 1089.3 426.7 1090.5C428.4 1091.7 419.7 1083.3 420.7 1084.3C421.7 1085.2 433.5 1094.9 435.3 1098.8C437.1 1102.6 434.4 1112.8 436.3 1117.3C438.2 1121.7 446.9 1134.7 451.9 1137C456.8 1139.3 469.8 1137 478.8 1137C473.3 1139 466.6 1141.5 462.2 1143.2C457.9 1144.9 446.3 1149.6 441.5 1151.5C436.7 1153.4 425.6 1158.2 420.7 1159.8C415.9 1161.4 405.6 1163.5 400 1165C394.4 1166.4 381.9 1169.8 372.8 1172.2C356.2 1151.5 329.5 1118.9 323 1110C316.5 1101.1 319.1 1100.5 317.2 1095.7C318.4 1091.2 320 1085.5 320.9 1082.2C321.8 1078.9 324.1 1070.8 325.1 1067.7C326 1064.5 326.5 1057.5 329.2 1055.2Z" fill="#e0e0e0" stroke="none" stroke-width="0.8" />
<path d="M329.6 1055.9L347.9 1048.4L440.2 1096.3L441.5 1097.8L431.1 1109.2L426.7 1104.4L329.6 1055.9Z" fill="#ededed" stroke="none" stroke-width="0.8" />
<path d="M317.2 1095.7C317.8 1093.4 319.6 1086.9 320.9 1082.2C322.2 1077.5 323.7 1072.2 325.1 1067.7C326.4 1063.2 325.4 1058.5 329.2 1055.2C333 1051.9 340.6 1049.7 347.9 1048C355.1 1046.2 368.6 1045.4 372.8 1044.9" fill="none" stroke="#1a1a1a" stroke-width="0.8" />
<path d="M331.3 1056.3L426.7 1104" fill="none" stroke="#1a1a1a" stroke-width="0.8" />
<path d="M347.9 1048.6L440.2 1096.7" fill="none" stroke="#1a1a1a" stroke-width="0.8" />
<path d="M372.8 1044.9C374.9 1046.6 379.7 1050.4 385.2 1055.2C390.8 1060.1 399.1 1068 406 1073.9C412.9 1079.8 421 1086.5 426.7 1090.5C432.4 1094.5 438 1096.5 440.2 1097.8" fill="none" stroke="#1a1a1a" stroke-width="0.8" />
<path d="M385.2 1055.2C393.5 1063.2 426.7 1095 435 1102.9" fill="none" stroke="#1a1a1a" stroke-width="0.8" />
<path d="M400 1064.6C405.9 1070.3 429.4 1093.1 435.3 1098.8" fill="none" stroke="#1a1a1a" stroke-width="0.8" />
<path d="M400 1073.9C405.2 1078.6 425.9 1097.2 431.1 1101.9" fill="none" stroke="#1a1a1a" stroke-width="0.8" />
<path d="M400 1090.5C404.5 1093.1 422.5 1103.5 427 1106.1" fill="none" stroke="#1a1a1a" stroke-width="0.8" />
<path d="M436.3 1117.3C436.3 1118.1 439.4 1126 441.5 1128.7C443.6 1131.3 448.8 1135.4 451.9 1137C454.9 1138.5 460.6 1140.1 464.3 1140.1C468 1140.1 479.3 1138.6 479.9 1137C480.4 1135.3 470.8 1128.6 468.5 1127.6C466.1 1126.7 464 1129.3 462.2 1129.7C460.4 1130.1 456.6 1130.7 455 1130.7C453.3 1130.7 451.6 1130.8 449.8 1129.7C448 1128.6 443.3 1124.1 441.5 1122.4C439.7 1120.8 436.3 1116.4 436.3 1117.3Z" fill="#fff" stroke="#1a1a1a" stroke-width="0.8" />
<path d="M437.3 1098.6C438.8 1097.4 440.1 1097.9 441.5 1097.6C446 1101.7 452.6 1107.8 455 1110C457.4 1112.2 460.6 1114.5 462.2 1116.2C463.9 1117.9 466.7 1121.8 468.9 1124.5L455 1131.2C453.3 1130.7 451.4 1130.7 449.8 1129.7C448.2 1128.7 443.1 1123.9 441.5 1122.4C439.9 1121 437.9 1118.1 436.3 1117.3C434.7 1116.4 429.1 1116 428 1115.2C426.9 1114.3 426.8 1110.8 427 1110C427.1 1109.2 427.8 1109.3 429 1107.9C430.3 1106.6 435.9 1099.8 437.3 1098.6Z" fill="#15120f"/>
<path d="M468.5 1124.5C471.7 1127.4 484.9 1138.7 488.2 1141.5" fill="none" stroke="#1a1a1a" stroke-width="0.8" />
<path d="M462.2 1116.2C466.6 1119.9 483.9 1134.6 488.2 1138.2" fill="none" stroke="#1a1a1a" stroke-width="0.8" />
<path d="M400 1165C403.5 1164.1 413.8 1162 420.7 1159.8C427.7 1157.5 434.6 1154.3 441.5 1151.5C448.4 1148.7 455.8 1145.7 462.2 1143.2C468.6 1140.7 476.9 1137.7 479.9 1136.6" fill="none" stroke="#1a1a1a" stroke-width="0.8" />
<path d="M400 1178.5C403.5 1177.6 413.8 1175.2 420.7 1173.3C427.7 1171.4 434.6 1169.3 441.5 1167.1C448.4 1164.8 454.5 1162.5 462.2 1159.8C470 1157.1 483.9 1152.4 488.2 1150.9" fill="none" stroke="#1a1a1a" stroke-width="0.8" />
<path d="M372.8 1172.2C378.3 1170.9 394.6 1167.4 406 1164.4C417.4 1161.3 435.4 1155.5 441.2 1153.8" fill="none" stroke="#1a1a1a" stroke-width="0.8" />
<path d="M381.1 1181.6C387 1180.4 406.3 1176.8 416.3 1174.3C426.4 1171.9 437.1 1168.1 441.2 1166.8" fill="none" stroke="#1a1a1a" stroke-width="0.8" />
<path d="M402.9 1208.5C409.3 1207.1 434.8 1201.5 441.2 1200" fill="none" stroke="#1a1a1a" stroke-width="0.8" />
<path d="M403.1 1208.5C417.3 1205.4 474 1192.8 488.2 1189.7" fill="none" stroke="#1a1a1a" stroke-width="0.8" />
<path d="M462.2 1195.5C466.6 1194.9 483.9 1192.7 488.2 1192.2" fill="none" stroke="#1a1a1a" stroke-width="0.8" />
<path d="M437.3 1249C445.8 1247.3 479.7 1240.5 488.2 1238.8" fill="none" stroke="#1a1a1a" stroke-width="0.8" />
<path d="M441.5 1255.2C449.3 1253.6 480.4 1247.3 488.2 1245.7" fill="none" stroke="#1a1a1a" stroke-width="0.8" />
<path d="M286.7 1038.6C287.7 1034.5 288.7 1028.6 289.8 1026.2C290.9 1023.8 293.8 1019.8 296 1017.9C298.2 1015.9 305.3 1011.2 308.5 1009.6C311.6 1007.9 319.4 1005 323 1003.8C326.6 1002.6 332.3 1001 339.6 999.2C346.8 997.5 373.5 991.5 385.2 988.8C397 986.2 428.2 978.6 440.2 976.4C452.2 974.2 472.2 972 488.2 969.8L488.2 1055.2C467.7 1067 436.3 1088.3 426.7 1090.5C417.1 1092.7 410.8 1078 406 1073.9C401.1 1069.8 389.1 1058.6 385.2 1055.2C381.4 1051.8 376.9 1048.3 372.8 1044.9L347.9 1048C341.7 1050.4 331.9 1052.9 329.2 1055.2C326.5 1057.5 326 1064.5 325.1 1067.7C324.1 1070.8 321.8 1078.9 320.9 1082.2C320 1085.5 318.4 1091.2 317.2 1095.7L286.7 1038.6Z" fill="#fff" stroke="none" stroke-width="0.8" />
<path d="M286.7 1038.6C287.1 1037 288.5 1028.9 289.8 1026.2C291 1023.4 293.5 1020.1 296 1017.9C298.5 1015.7 304.9 1011.5 308.5 1009.6C312.1 1007.7 318.8 1005.2 323 1003.8C327.1 1002.4 331.3 1001.2 339.6 999.2C347.9 997.2 371.8 991.9 385.2 988.8C398.6 985.8 428.7 978.6 440.2 976.4C451.7 974.2 465.2 973.1 471.6 972.2C478 971.4 486 970.3 488.2 970" fill="none" stroke="#1a1a1a" stroke-width="0.8" />
<path d="M337.5 999.6C337.9 1002.7 338.5 1010.7 339.6 1017.9C340.6 1025.1 342.4 1037.8 343.7 1042.8C345.1 1047.8 347.2 1047.1 347.9 1048" fill="none" stroke="#1a1a1a" stroke-width="0.8" />
<path d="M368.6 941.1C371.4 940.8 380.4 938.5 385.2 939C390.1 939.6 395.6 943.4 397.7 944.2" fill="none" stroke="#1a1a1a" stroke-width="0.8" />
<path d="M385.2 939C388 942.5 396.6 952.5 401.8 959.8C407 967.1 413.9 978.8 416.3 982.6" fill="none" stroke="#1a1a1a" stroke-width="0.8" />
<path d="M397.7 944.2C400.4 947.2 408.7 956.1 414.3 961.9C419.8 967.6 428.1 976 430.9 978.9" fill="none" stroke="#1a1a1a" stroke-width="0.8" />
<path d="M158.8 1006.7C159.3 1003.6 160.3 998.1 161.1 995.8C161.9 993.4 164.2 988.4 165.8 986.5C167.4 984.5 172.4 980 175.1 978.7C177.8 977.3 186.4 975.1 189.1 974.8C191.8 974.4 196.6 974.9 198.5 975.6C200.3 976.2 201.1 975.5 204.7 980.2C208.3 984.9 224 1007.5 229.6 1016C235.2 1024.5 249.7 1048.1 252.9 1053.4C256.1 1058.6 256.6 1059.5 256.8 1061.1C257 1062.8 255.8 1066.5 254.5 1067.4C253.1 1068.3 248.2 1068.6 245.1 1068.9C242.1 1069.3 232.4 1069.7 228 1070.5C223.7 1071.2 212 1074.1 207.8 1075.1C203.6 1076.2 195.9 1079.4 192.2 1079.8C188.6 1080.2 180.3 1081.3 176.7 1078.3C173 1075.2 163.6 1058.4 161.1 1053.4C158.7 1048.3 156.2 1038.3 155.7 1034.7C155.1 1031.1 156.1 1025.5 156.5 1022.2C156.8 1019 158.2 1009.8 158.8 1006.7Z" fill="#fff" stroke="none" stroke-width="0.8" />
<path d="M155.7 1034.7C155.8 1033 156 1026 156.5 1022.2C156.9 1018.5 158.2 1010.2 158.8 1006.7C159.4 1003.2 160.2 998.5 161.1 995.8C162.1 993.1 163.9 988.7 165.8 986.5C167.7 984.2 172 980.2 175.1 978.7C178.2 977.1 186 975.2 189.1 974.8C192.2 974.4 196.4 974.8 198.5 975.6C200.5 976.3 200.5 974.8 204.7 980.2C208.8 985.6 223.1 1006.3 229.6 1016C236 1025.8 249.3 1047.3 252.9 1053.4C256.5 1059.4 256.6 1059.3 256.8 1061.1C257 1063 256 1066.3 254.5 1067.4C252.9 1068.4 248.7 1068.5 245.1 1068.9C241.6 1069.3 233 1069.6 228 1070.5C223 1071.3 212.6 1073.9 207.8 1075.1C203 1076.4 194.3 1079.2 192.2 1079.8" fill="none" stroke="#1a1a1a" stroke-width="0.8" />
<path d="M161.1 997.3C161.7 996 163.9 989.2 165.8 987.2C167.7 985.3 172.8 983.1 175.1 982.6C177.4 982 181 982.4 182.9 983.3C184.8 984.3 182.9 979.8 189.1 989.6C195.3 999.3 224 1046.5 229.6 1056.5C235.2 1066.4 231.3 1062.6 231.1 1064.2C230.9 1065.9 231.1 1067.8 228 1068.9C224.9 1070.1 212.6 1071.6 207.8 1072.8C203 1074.1 194.3 1077.5 192.2 1078.3" fill="none" stroke="#1a1a1a" stroke-width="0.8" />
<ellipse cx="177.8" cy="1025.7" rx="20.7" ry="29.6" fill="#fff" transform="rotate(-14 177.8 1025.7)"/>
<ellipse cx="175.9" cy="1025.3" rx="15.6" ry="23.7" fill="#fff" transform="rotate(-14 175.9 1025.3)"/>
<ellipse cx="172.3" cy="1026.1" rx="13.7" ry="18.4" fill="#fff" transform="rotate(-14 172.3 1026.1)"/>
<ellipse cx="168.9" cy="1022.2" rx="8.7" ry="11.2" fill="#fff" transform="rotate(-14 168.9 1022.2)"/>
<path d="M166.6 1011.3C167.9 1011 172.2 1009.1 174.3 1009.5C176.5 1009.9 178.6 1013 179.5 1013.7" fill="none" stroke="#1a1a1a" stroke-width="0.8" />
<path d="M172 1044.8C173 1044.5 176.5 1044.3 178.2 1043.2C179.9 1042.2 181.5 1039.4 182.1 1038.6" fill="none" stroke="#1a1a1a" stroke-width="0.8" />
<path d="M170.8 1040.9C171.8 1040.7 175.1 1040.4 176.7 1039.7C178.2 1038.9 179.5 1036.8 180.1 1036.2" fill="none" stroke="#1a1a1a" stroke-width="0.8" />
<path d="M161.9 1030C160.1 1032.6 157.3 1035.4 156.5 1037.8C155.6 1040.2 154.8 1047 154.9 1050.2C155 1053.5 156.5 1062 157.2 1065.8C158 1069.6 160.4 1079.3 161.1 1082.9C161.8 1086.5 162.7 1094.2 163.5 1096.9C164.2 1099.6 167.3 1103.5 167.3 1106.3C167.4 1109 164.4 1116.5 164.1 1120.4C163.7 1124.2 163.5 1134 164.5 1139C165.5 1144.1 170.6 1158.4 172.8 1163.9C175 1169.5 180.2 1181.9 183.2 1186.8C186.1 1191.6 194 1201.7 197.7 1205.4C201.3 1209.2 210.9 1216.6 214.3 1218.9C217.7 1221.2 223.7 1224.1 226.7 1225.1C229.7 1226.2 236.7 1227.7 240.2 1228.3C243.7 1228.8 251.8 1230 256.6 1229.9C261.4 1229.8 273 1228.1 281.5 1227.2C290 1226.3 313.3 1223.8 329.2 1222L391.5 1302.9L397.7 1309.2L485.1 1309.2L480.9 1302.9L400 1205.4L372.8 1172.2L323 1110C319.5 1104.2 315 1096.8 312.6 1092.6C310.2 1088.4 304.4 1078.3 302.2 1073.9C300.1 1069.5 295.8 1059.3 293.9 1055.2C292.1 1051.1 289.1 1044.2 286.7 1038.6C286.4 1039 286.5 1040.9 285.8 1039.8C285.2 1038.7 282.2 1031.1 281.1 1028.9C280 1026.7 278.1 1022.8 276.5 1021.1C274.8 1019.5 269.3 1016.5 267.1 1014.9C265 1013.3 259.5 1009 257.8 1007.1C256.1 1005.2 253.6 999.8 252.4 998.6C251.1 997.3 248.2 996.1 246.9 996.2C245.6 996.3 242.3 998.4 241.5 999.3C240.6 1000.2 240 1002.4 239.9 1004C239.8 1005.6 240 1011 240.7 1013.3C241.3 1015.7 243.9 1021.5 245.3 1024.2C246.8 1027 251.5 1034 253.1 1036.7C254.8 1039.4 258.2 1045 259.4 1047.6C260.5 1050.1 263 1055.9 263.2 1058.5C263.5 1061 262.3 1067.4 261.7 1069.4C261.1 1071.3 259.1 1073 257.8 1074.8C251.5 1072.8 242.6 1069.4 238.9 1068.9C235.3 1068.4 230.1 1069.7 226.5 1070.5C222.8 1071.2 211.8 1074.1 207.8 1075.1C203.8 1076.2 197.4 1078.3 192.2 1079.8C189.6 1078.8 186.1 1078.1 184.5 1076.7C182.8 1075.2 179.5 1069.7 178.2 1067.4C177 1065 174.2 1058.6 173.6 1056.5C172.9 1054.3 173.1 1050.7 172.8 1048.7C172.5 1046.7 171.9 1041.2 171.2 1039.4C170.6 1037.5 168.4 1034.2 167.3 1033.1C166.3 1032 163.7 1031.1 161.9 1030Z" fill="#fff" stroke="#1a1a1a" stroke-width="0.8" />
<path d="M238.9 1068.9L259.1 1075.5" fill="none" stroke="#1a1a1a" stroke-width="1.6" />
<path d="M163.5 1090.7C164.6 1090.2 168.5 1088.7 170.5 1087.6C172.5 1086.5 174.6 1084.7 175.4 1084.2" fill="none" stroke="#1a1a1a" stroke-width="0.8" />
<path d="M167.3 1096.9C168.4 1096.4 172 1094.9 173.6 1093.8C175.2 1092.7 176.4 1091 177 1090.4" fill="none" stroke="#1a1a1a" stroke-width="0.8" />
<path d="M164.2 1058C165.3 1058.3 168.4 1058 170.5 1059.6C172.5 1061.1 174.6 1064.5 176.7 1067.4C178.8 1070.2 181.9 1075.1 182.9 1076.7" fill="none" stroke="#1a1a1a" stroke-width="0.8" />
<path d="M192.2 1079.8C193.5 1080.3 195.9 1082.1 200 1082.9C204.2 1083.7 211.2 1083.4 217.1 1084.5C223.1 1085.5 231.1 1088.9 235.8 1089.1C240.5 1089.4 242 1087.8 245.1 1086C248.3 1084.2 252.1 1080 254.5 1078.3C256.8 1076.5 258.4 1075.9 259.1 1075.5" fill="none" stroke="#1a1a1a" stroke-width="0.8" />
<path d="M181.3 1078.3C182.6 1078.8 185.5 1079.8 189.1 1081.4C192.8 1082.9 200 1086 203.1 1087.6C206.2 1089.2 207 1090.4 207.8 1091" fill="none" stroke="#1a1a1a" stroke-width="0.8" />
<path d="M231.1 1098.5C233 1097.2 238.4 1093.2 242 1090.7C245.7 1088.2 251.1 1084.5 252.9 1083.2" fill="none" stroke="#1a1a1a" stroke-width="0.8" />
<path d="M243 1002.4C243.4 1003.4 244.1 1006.5 245.3 1007.9C246.6 1009.3 248.6 1010.7 250.8 1011C253 1011.3 257.3 1009.7 258.6 1009.4" fill="none" stroke="#1a1a1a" stroke-width="0.8" />
<path d="M264.8 1027.3C266 1026.8 269.9 1025.1 271.8 1024.2C273.7 1023.4 275.7 1022.7 276.5 1022.4" fill="none" stroke="#1a1a1a" stroke-width="0.8" />
<path d="M267.1 1030.8C268.3 1030.3 272.2 1028.9 274.1 1028.1C276.1 1027.3 278 1026.4 278.8 1026.1" fill="none" stroke="#1a1a1a" stroke-width="0.8" />
<path d="M269.5 1034.3C270.6 1034.1 274.6 1033.5 276.5 1032.8C278.4 1032.1 280.1 1030.6 280.8 1030.1" fill="none" stroke="#1a1a1a" stroke-width="0.8" />
<path d="M176.9 1109C181.8 1110.9 198 1116.6 206 1120.4C213.9 1124.2 221.5 1129.9 224.6 1131.8" fill="none" stroke="#1a1a1a" stroke-width="0.8" />
<path d="M191.5 1109C195.6 1111.2 208.2 1116.9 216.3 1122.4C224.5 1128 236.2 1138.9 240.2 1142.2" fill="none" stroke="#1a1a1a" stroke-width="0.8" />
<path d="M175.9 1176.4C176.2 1175.9 177 1173.6 178 1173.3C178.9 1172.9 180.9 1174.1 181.5 1174.3" fill="none" stroke="#1a1a1a" stroke-width="0.8" />
<path d="M175.9 1176.4C176.2 1177.1 176.9 1179.8 178 1180.5C179 1181.2 181.6 1180.5 182.3 1180.5" fill="none" stroke="#1a1a1a" stroke-width="0.8" />
<path d="M224.6 1225.1C225.3 1226.9 226.9 1234.8 228.8 1235.5C230.7 1236.2 234.2 1230.5 236.1 1229.3C238 1228.1 239.5 1228.4 240.2 1228.3" fill="none" stroke="#1a1a1a" stroke-width="0.8" />
<path d="M240 1142.2C243.5 1143.4 254.5 1147 260.7 1149.4C267 1151.8 271.8 1154.3 277.3 1156.7C294.6 1178.5 320.6 1211.1 329.2 1222" fill="none" stroke="#1a1a1a" stroke-width="0.8" />
<path d="M372.8 1044.9C371.7 1041.4 370.9 1036.4 369.7 1034.5C368.5 1032.5 363.6 1030 362.4 1028.3C361.2 1026.6 359.3 1021.7 359.3 1020C359.3 1018.3 361.1 1014.7 362.4 1013.7C363.7 1012.8 368.5 1011.2 370.7 1011.7C372.9 1012.1 378.7 1015.7 381.1 1017.9C383.5 1020.1 388.8 1028.4 391.5 1030.3C394.1 1032.3 401.5 1033.5 403.9 1034.5C406.3 1035.4 409.5 1038.6 412.2 1038.6C414.9 1038.6 424.8 1035.2 426.7 1034.5C428.7 1033.8 426.4 1034.5 429 1032.4C431.7 1030.3 442.9 1022 449.8 1016.8L488.2 1017.9L488.2 972.2C482.6 972.2 474.1 973.8 471.6 972.2C469 970.7 467.5 960.8 466.4 958.8C465.3 956.7 463.7 955.2 462.2 954.6C460.8 954 456.4 954.3 453.9 953.6C451.5 952.8 444.6 949.5 441.5 948.4C438.3 947.3 430.4 944.8 427 944.2C423.6 943.6 415 943 412.4 943.2C409.9 943.4 405.8 945.3 405.2 946.3C404.6 947.3 406.2 950.3 407.3 951.5C408.4 952.7 412.2 955.8 414.5 956.7C416.8 957.6 424.1 957.8 427 959.4C429.9 961 437.6 968.2 439.4 970.2C441.2 972.2 442.5 975.2 442.5 976.4C442.5 977.6 440.5 979.2 439.4 980.5L385.2 988.8L383.2 1042.8L372.8 1044.9Z" fill="#fff" stroke="none" stroke-width="0.8" />
<path d="M372.8 1044.9C372.3 1043.1 371.4 1037.2 369.7 1034.5C367.9 1031.7 364.1 1030.7 362.4 1028.3C360.7 1025.8 359.3 1022.4 359.3 1020C359.3 1017.5 360.5 1015.1 362.4 1013.7C364.3 1012.4 367.6 1011 370.7 1011.7C373.8 1012.4 377.6 1014.8 381.1 1017.9C384.5 1021 387.6 1027.6 391.5 1030.3C395.3 1033.1 400.4 1033.1 403.9 1034.5C407.4 1035.9 408.4 1038.6 412.2 1038.6C416 1038.6 422.1 1036.2 426.7 1034.5C431.4 1032.8 438 1029.3 440.2 1028.3" fill="none" stroke="#1a1a1a" stroke-width="0.8" />
<path d="M369.7 1017.9C370 1019.3 371.9 1023.8 371.7 1026.2C371.6 1028.6 369.1 1031.4 368.6 1032.4" fill="none" stroke="#1a1a1a" stroke-width="0.8" />
<path d="M374.9 1042.8C375.4 1043.9 377.4 1048.3 378 1049.4" fill="none" stroke="#1a1a1a" stroke-width="0.8" />
<path d="M380 1038.6C380.6 1040.1 382.6 1045.9 383.2 1047.3" fill="none" stroke="#1a1a1a" stroke-width="0.8" />
<path d="M385.2 1040.7C385.4 1042.2 386.3 1048 386.5 1049.4" fill="none" stroke="#1a1a1a" stroke-width="0.8" />
<path d="M427 959.4C424.9 958.9 417.8 958 414.5 956.7C411.2 955.4 408.8 953.2 407.3 951.5C405.7 949.8 404.3 947.7 405.2 946.3C406.1 944.9 408.8 943.5 412.4 943.2C416.1 942.8 422.1 943.4 427 944.2C431.8 945.1 437 946.8 441.5 948.4C446 949.9 450.5 952.5 453.9 953.6C457.4 954.6 460.2 953.7 462.2 954.6C464.3 955.5 464.8 955.8 466.4 958.8C467.9 961.7 469.5 966.5 471.6 972.2C473.7 977.9 476.1 985.9 478.8 993C481.6 1000.1 486.6 1011.1 488.2 1014.8" fill="none" stroke="#1a1a1a" stroke-width="0.8" />
<path d="M428 952.5C428.5 954.1 429.2 958.9 431.1 961.9C433 964.8 437.5 968.4 439.4 970.2C441.3 971.9 441.7 970.2 442.5 972.2C443.4 974.3 443.9 979.2 444.6 982.6C445.3 986.1 446.7 989.5 446.7 993C446.7 996.4 444.8 999.2 444.6 1003.4C444.4 1007.5 445.5 1015.5 445.6 1017.9" fill="none" stroke="#1a1a1a" stroke-width="0.8" />
<path d="M449.8 1016.8C447.7 1018.4 440.8 1023.4 437.3 1026.2C433.9 1028.9 432.5 1031.4 429 1033.4C425.6 1035.5 420.1 1037.9 416.6 1038.6C413.1 1039.3 409.7 1037.8 408.3 1037.6" fill="none" stroke="#1a1a1a" stroke-width="0.8" />
<path d="M408.3 1035.5C411.8 1035 425.6 1032.9 429 1032.4" fill="none" stroke="#1a1a1a" stroke-width="0.8" />
<path d="M453.9 956.7C454.8 956.5 457.7 955.3 459.1 955.6C460.5 956 461.7 958.2 462.2 958.8" fill="none" stroke="#1a1a1a" stroke-width="0.8" />
<path d="M455 966.4C456 965.7 460.2 962.6 461.2 961.9" fill="none" stroke="#1a1a1a" stroke-width="0.8" />
<path d="M451.9 961.9C453.1 961.3 457.9 959.3 459.1 958.8" fill="none" stroke="#1a1a1a" stroke-width="0.8" />
<path d="M463.3 955.6C464.1 958.4 466.6 966 468.5 972.2C470.4 978.5 473 986.1 474.7 993C476.4 999.9 478.1 1010.3 478.8 1013.7" fill="none" stroke="#1a1a1a" stroke-width="0.8" />
<path d="M400 987.8C406.6 986.6 432.8 981.7 439.4 980.5" fill="none" stroke="#1a1a1a" stroke-width="0.8" />
<path d="M400 947.3C402.8 953.2 413.8 976.7 416.6 982.6" fill="none" stroke="#1a1a1a" stroke-width="0.8" />
<path d="M410.4 957.7C413.8 961.4 427.7 976.2 431.1 979.9" fill="none" stroke="#1a1a1a" stroke-width="0.8" />
<path d="M45.8 1264.6C63.9 1261.2 90.2 1256.2 100.2 1254.6C110.1 1253 103.6 1254.4 105.4 1255.2C107.1 1256.1 109.7 1259 110.5 1259.8" fill="none" stroke="#1a1a1a" stroke-width="0.8" />
<path d="M45.8 1273.9L216.3 1243.8" fill="none" stroke="#1a1a1a" stroke-width="0.8" />
<path d="M45.8 1280.1C58.7 1277.5 94.2 1269.9 123 1264.6C151.8 1259.2 202.5 1250.7 218.4 1248" fill="none" stroke="#1a1a1a" stroke-width="0.8" />
<path d="M45.8 1284.3C58.7 1282 93.9 1276.3 123 1270.8C152.1 1265.3 204.2 1254.4 220.5 1251.1" fill="none" stroke="#1a1a1a" stroke-width="0.8" />
<path d="M45.8 1288.8C55.2 1287.2 73.8 1284.6 102.2 1279.1C130.7 1273.6 197.3 1259.6 216.3 1255.6" fill="none" stroke="#1a1a1a" stroke-width="0.8" />
<path d="M56.6 1276L216.3 1245.9" fill="none" stroke="#1a1a1a" stroke-width="2.2" stroke-dasharray="1.6 1.2"/>
<path d="M133.4 1269.8L150 1266" fill="none" stroke="#1a1a1a" stroke-width="1.6" />
<path d="M71.1 1302.9L206 1284.3L198.7 1303.4" fill="none" stroke="#1a1a1a" stroke-width="0.8" />
<path d="M228.8 1235.5C227.4 1238.1 222.6 1247.4 220.5 1251.1C218.4 1254.7 216.3 1254.2 216.3 1257.3C216.3 1260.4 219.5 1266.6 220.5 1269.8C221.5 1272.9 220.5 1274.2 222.6 1276C224.6 1277.7 232.3 1279.1 232.9 1280.1C233.6 1281.2 229.1 1281.9 226.7 1282.2C224.3 1282.5 220.2 1282.9 218.4 1282.2C216.7 1281.5 215.7 1279.1 216.3 1278C217 1277 221.5 1276.3 222.6 1276" fill="none" stroke="#1a1a1a" stroke-width="0.8" />
<path d="M264.9 1230.3C263.9 1232.8 260.1 1239.3 258.7 1244.9C257.3 1250.4 256.8 1256.6 256.6 1263.5C256.4 1270.4 256.9 1279.7 257.6 1286.3C258.3 1293 260.2 1300.5 260.7 1303.4" fill="none" stroke="#1a1a1a" stroke-width="0.8" />
<path d="M257.6 1287.4C275.1 1283.6 344.9 1268.4 362.4 1264.6" fill="none" stroke="#1a1a1a" stroke-width="0.8" />
<path d="M259.7 1293.6C277.5 1289.8 348.7 1274.6 366.6 1270.8" fill="none" stroke="#1a1a1a" stroke-width="0.8" />
<path d="M312.6 1288.4C322.1 1286.2 360.2 1277.2 369.7 1274.9" fill="none" stroke="#1a1a1a" stroke-width="0.8" />
<path d="M245.2 1303.4C247.1 1298.5 254.7 1278.8 256.6 1273.9" fill="none" stroke="#1a1a1a" stroke-width="0.8" />
<path d="M297.1 1303.4C297.4 1301.6 297.2 1295.1 299.1 1292.6C301 1290.1 306.9 1289.1 308.5 1288.4" fill="none" stroke="#1a1a1a" stroke-width="0.8" />
<path d="M308.5 1303.4C309 1301.6 309.8 1294.9 311.6 1292.6C313.3 1290.3 317.6 1290 318.8 1289.5" fill="none" stroke="#1a1a1a" stroke-width="0.8" />
<path d="M345.8 1303.4C346 1301.6 346 1294.9 346.8 1292.6C347.7 1290.3 349.6 1289.3 351 1289.5C352.4 1289.6 353.9 1291.3 355.1 1293.6C356.4 1295.9 357.7 1301.7 358.3 1303.4" fill="none" stroke="#1a1a1a" stroke-width="0.8" />
<path d="M360.3 1303.4C360.5 1301.2 360.5 1293.3 361.4 1290.5C362.2 1287.7 364 1286.3 365.5 1286.3C367.1 1286.3 369.3 1287.7 370.7 1290.5C372.1 1293.3 373.3 1301.2 373.8 1303.4" fill="none" stroke="#1a1a1a" stroke-width="0.8" />
<path d="M375.9 1286.3C376.2 1289.2 377.6 1300.5 378 1303.4" fill="none" stroke="#1a1a1a" stroke-width="0.8" />
<path d="M312.6 1303.4C313.7 1302.6 316.4 1299.4 318.8 1298.8C321.3 1298.2 325.1 1299.1 327.1 1299.8C329.2 1300.6 330.6 1302.8 331.3 1303.4" fill="none" stroke="#1a1a1a" stroke-width="0.8" />
<path d="M431.1 882.2C430.8 879.7 431.2 876.1 432.2 873.9C433.1 871.7 436 867.1 438.4 865.6C440.7 864.1 445.8 863.3 449.8 862.5C453.8 861.7 463.2 860.1 468.5 859.4C473.7 858.7 482.3 858 489.2 857.3L489.2 892.2C483.7 893 477.3 893.8 472.6 894.6C467.9 895.5 458.1 897.8 453.9 898.4C449.8 898.9 444.1 899.6 441.5 898.8C438.9 898 435.6 894.8 434.2 892.6C432.8 890.4 431.4 884.7 431.1 882.2Z" fill="#fff" stroke="#1a1a1a" stroke-width="0.8" />
<circle cx="437.3" cy="883.2" r="3.2"/>
<path d="M455 863.5C454.6 865.6 452.7 872.2 452.9 876C453.1 879.8 454.5 883 456 886.3C457.6 889.7 461.2 894.5 462.2 896.1" fill="none" stroke="#1a1a1a" stroke-width="0.8" />
<path d="M469.5 860.4C468.6 862.3 464.5 868.2 464.3 871.8C464.1 875.5 466.2 879 468.5 882.2C470.7 885.4 476.2 889.5 477.8 890.9" fill="none" stroke="#1a1a1a" stroke-width="0.8" />
<path d="M479.9 858.3C479.5 860.2 477.5 866.1 477.8 869.8C478.1 873.4 480.3 877.5 482 880.1C483.6 882.8 486.6 884.6 487.6 885.5" fill="none" stroke="#1a1a1a" stroke-width="0.8" />
<path d="M62.8 1057.3L136 1034" stroke="#1a1a1a" stroke-width="4.2" style="stroke-linecap:butt"/>
<path d="M162.8 1027.8L120.9 1023.7L134.4 1035.5L130.2 1053.2Z" fill="#1a1a1a" stroke="none"/>
<path d="M424 932L488 909.5" stroke="#1a1a1a" stroke-width="4" style="stroke-linecap:butt"/>
<path d="M397.7 940.7L429 913.7L425.9 930.7L439.4 943.6Z" fill="#1a1a1a" stroke="none"/>
</g>
<path d="M487.5 716.5V1303.3" stroke="#1a1a1a" stroke-width="1"/>
<rect x="45" y="716" width="36.9" height="44.7" fill="#15120f"/>
</g>
<!-- p_p3 -->
<g>
<defs><clipPath id="c3"><rect x="488" y="717" width="441.6" height="586.3"/></clipPath></defs>
<g clip-path="url(#c3)" fill="none" stroke="#1a1a1a" stroke-width="0.8">
<path d="M488 759.8C497.4 775.4 534.8 837.6 544.2 853.2" fill="none" stroke="#1a1a1a" stroke-width="0.8" />
<path d="M561.8 884.3C588.7 930.2 696.1 1114 723 1160" fill="none" stroke="#1a1a1a" stroke-width="0.8" />
<path d="M487 797C493.2 808.3 518.2 853.3 524.5 864.6" fill="none" stroke="#1a1a1a" stroke-width="0.8" />
<path d="M541.1 894.6C570.7 945.4 689.1 1148.4 718.7 1199.2" fill="none" stroke="#1a1a1a" stroke-width="0.8" />
<path d="M573.5 876C573.5 871.5 574.8 863.3 576.6 859.4C578.4 855.5 583.1 849.4 587 846.9C590.8 844.4 600.1 841.4 605.6 840.7C611.2 840 622.1 840.8 628.5 841.7C634.8 842.7 647.6 846.2 653.4 848C659.2 849.8 668.2 853.4 672 855.2C675.9 857 679.6 858.7 682.4 861.5C685.2 864.2 689.3 871.1 692.8 876L699 910C702.5 923.8 706.1 937.7 709.4 951.5C712.7 965.3 720.3 996.3 723.9 1013.7C727.5 1031.2 734.1 1071.1 736.3 1082.2C738.6 1093.3 739.1 1091.9 740.5 1096.7L726 1110L721.8 1145.3L703.2 1113.1C699.7 1107.6 702.2 1112.7 692.8 1096.7C683.4 1080.7 646.9 1017.9 632.6 993C618.4 968.1 593.4 923.4 585.9 910C578.5 896.6 578.3 897.1 576.6 892.6C574.9 888 573.5 880.4 573.5 876Z" fill="#f0f0f0" stroke="#8a8a8a" stroke-width="0.5" />
<path d="M617.1 910.2C616.2 908.7 613.4 904.8 611.9 900.9C610.3 896.9 607.4 890.5 607.7 886.3C608.1 882.2 610.5 878.4 613.9 876C617.4 873.6 622.6 871.8 628.5 871.8C634.3 871.8 642.6 873.6 649.2 876C655.8 878.4 662.4 882.2 667.9 886.3C673.4 890.5 678.8 896.9 682.4 900.9C686 904.8 688.5 908.7 689.7 910.2" fill="none" stroke="#8a8a8a" stroke-width="0.5" />
<path d="M623.3 910C626.6 914.1 636.2 925.9 643 934.9C649.7 943.9 654.1 948.7 663.7 963.9C673.4 979.2 689 1006.5 701.1 1026.2C713.2 1045.9 730.5 1072.9 736.3 1082.2" fill="none" stroke="#8a8a8a" stroke-width="0.5" />
<path d="M689.7 910C692.3 914.5 700.6 926.6 705.2 937C709.9 947.3 715.6 966.4 717.7 972.2" fill="none" stroke="#8a8a8a" stroke-width="0.5" />
<path d="M646.1 927.6L652.3 922.4L672 951.5L663.7 954.6L646.1 927.6Z" fill="#a9a9a9"/>
<path d="M643 930.1L653.8 918.3" fill="none" stroke="#a9a9a9" stroke-width="0.6" />
<path d="M679.3 909L685.5 909L698.6 937L692.8 939.5L679.3 909Z" fill="#a9a9a9"/>
<path d="M686.6 843.8C688.5 843.6 696.1 843 698 842.8" fill="none" stroke="#b5b5b5" stroke-width="0.6" />
<path d="M690.3 843.8L695.9 843.2L703.2 867.7L698 867.7L690.3 843.8Z" fill="#c9c9c9"/>
<path d="M714.6 1036.6L720.8 1032.4L732.6 1063.5L730.5 1065.6L714.6 1036.6Z" fill="#a9a9a9"/>
<path d="M664.8 961.9C664.9 959.5 666.5 956 667.9 954.6C669.3 953.2 673.3 951.5 675.1 951.5C676.9 951.5 679.6 952.4 681.4 954.6C683.2 956.8 685.4 962.4 688.6 968.1C691.8 973.8 701.4 989.9 705.2 997.1C709.1 1004.3 715.6 1017.3 717.7 1022C719.8 1026.7 721.3 1030.5 720.8 1032.4C720.2 1034.3 715.6 1036.6 713.5 1036.6C711.5 1036.6 708 1035.4 705.2 1032.4C702.5 1029.4 696.4 1019.5 692.8 1013.7C689.2 1007.9 681.7 994.4 678.3 988.8C674.8 983.3 668.6 975.8 666.8 972.2C665 968.6 664.6 964.2 664.8 961.9Z" fill="#e2e2e2" stroke="#b0b0b0" stroke-width="0.5" />
<path d="M692.8 943.2C692.9 940.2 695.4 939.6 696.9 939C698.5 938.5 702.7 937.9 704.2 939C705.7 940.2 707.1 942.9 708.3 947.3C709.6 951.8 711.5 963.9 713.5 972.2C715.6 980.5 722.2 1002.4 723.9 1009.6C725.6 1016.8 726.8 1025.6 726 1026.2C725.1 1026.7 720.4 1018.7 717.7 1013.7C714.9 1008.8 708.1 995.8 705.2 988.8C702.3 981.9 697.6 968 695.9 961.9C694.2 955.8 692.6 946.2 692.8 943.2Z" fill="#e2e2e2" stroke="#b0b0b0" stroke-width="0.5" />
<path d="M666.8 741.1L682.4 739L694.9 815.8L684.5 876L679.3 820L666.8 741.1Z" fill="#fff" stroke="none" stroke-width="0.8" />
<path d="M685.5 739L696.9 720.4L711.5 799.2L693.8 803.4L685.5 739Z" fill="#fff" stroke="none" stroke-width="0.8" />
<path d="M666.8 741.1C671 767.4 676.4 797.5 679.3 820C682.2 842.4 682.8 857.3 684.5 876" fill="none" stroke="#1a1a1a" stroke-width="0.8" />
<path d="M682.4 739L694.9 815.8" fill="none" stroke="#1a1a1a" stroke-width="0.8" />
<path d="M685.5 739L693.8 803.4" fill="none" stroke="#1a1a1a" stroke-width="0.8" />
<path d="M696.9 720.4L711.5 799.2" fill="none" stroke="#1a1a1a" stroke-width="0.8" />
<path d="M644.6 714.1C645.5 719 645.3 724.7 647.1 728.7C648.9 732.6 651.8 735.9 655.4 738C659.1 740.1 664.4 741.1 668.9 741.1C673.4 741.1 678.8 739.9 682.4 738C686 736.1 689 733.7 690.7 729.7C692.4 725.7 692.1 719.3 692.8 714.1L644.6 714.1Z" fill="#fff" stroke="#1a1a1a" stroke-width="0.8" />
<path d="M692.8 717.3C693 719.2 694.9 725.2 693.8 728.7C692.8 732.1 687.8 736.5 686.6 738" fill="none" stroke="#1a1a1a" stroke-width="0.8" />
<circle cx="664.8" cy="721.4" r="5" fill="#fff"/><circle cx="664.8" cy="721.4" r="3"/>
<path d="M661.7 718.3C662.7 719.3 666.8 723.5 667.9 724.5" fill="none" stroke="#1a1a1a" stroke-width="1.2" />
<path d="M667.9 718.3C666.8 719.3 662.7 723.5 661.7 724.5" fill="none" stroke="#1a1a1a" stroke-width="1.2" />
<path d="M694.9 716.6C695.4 717.3 696.2 720.1 698 720.4C699.7 720.7 704 718.6 705.2 718.3" fill="none" stroke="#1a1a1a" stroke-width="0.8" />
<path d="M692.8 804.4C693.3 804.1 699.4 803.8 701.1 803.4C702.7 802.9 711.5 799.3 712.5 799.2C713.5 799.1 714.3 801.6 713.5 802.3C712.7 803 704.7 807.1 703.2 807.5C701.6 807.9 695.7 807.8 694.9 807.5C694 807.3 692.3 804.7 692.8 804.4Z" fill="#fff" stroke="#1a1a1a" stroke-width="0.8" />
<path d="M676.2 818.9C676.8 818.6 682.8 818.3 684.5 817.9C686.1 817.5 694.9 813.8 695.9 813.7C696.8 813.6 696.8 816.2 695.9 816.8C694.9 817.5 686 820.6 684.5 821C682.9 821.4 677.9 822.2 677.2 822C676.5 821.9 675.6 819.3 676.2 818.9Z" fill="#fff" stroke="#1a1a1a" stroke-width="0.8" />
<ellipse cx="679.3" cy="845.9" rx="1.6" ry="5"/>
<path d="M684.5 876C685.3 876 688.8 876 689.7 876" fill="none" stroke="#1a1a1a" stroke-width="0.8" />
<path d="M685.5 878C686 879.4 687.1 883.5 688.6 886.3C690.2 889.2 693.8 893.6 694.9 895.1" fill="none" stroke="#1a1a1a" stroke-width="0.8" />
<path d="M686.6 834.5C686.8 830.6 688 825.1 689.7 822C691.3 819 695.8 813.9 699 811.7C702.2 809.4 709.4 806.3 713.5 805.4C717.7 804.6 725.7 804.9 730.1 805.4C734.6 806 743.2 808.5 746.7 809.6C750.3 810.7 753.1 811.9 756.6 813.7C760.1 815.5 769 820.3 773.2 823.1C777.3 825.8 784.1 831 787.7 834.5C791.3 837.9 797.1 844.9 800.2 849C803.2 853.2 808.5 861.2 810.5 865.6C812.6 870 814.7 878 815.7 882.2C816.8 886.3 818 893 818.4 896.7C818.8 900.4 818.9 905.5 818.8 910C818.8 914.5 818.3 923.8 817.8 930.7C817.3 937.7 815.9 954.1 815.1 961.9C814.4 969.6 812.8 982.5 812.2 988.8C811.6 995.2 811 1004.1 811 1009.6C810.9 1015.1 811.1 1024.2 811.6 1030.3C812.1 1036.4 813.6 1048.3 814.7 1055.2C815.8 1062.1 818.5 1075 819.9 1082.2C821.3 1089.4 823.8 1102.7 825.1 1109.2C826.3 1115.6 827.6 1125.1 829.2 1130.7C830.9 1136.4 834.7 1146 837.5 1151.5C840.3 1157 846.6 1167.5 850 1172.2C853.3 1176.9 859.1 1184 862.4 1186.8C865.7 1189.5 870.7 1190.9 874.9 1193L932.9 1201.3L932.9 1223.1C924 1225.5 912.3 1228.5 906 1230.3C899.6 1232.1 891 1235 885.2 1236.6C879.4 1238.1 867.7 1241.5 862.4 1241.7C857.2 1242 849.7 1240.2 845.8 1238.6C841.9 1237.1 836.1 1233.1 833.4 1230.3C830.6 1227.6 827 1222 825.1 1217.9C823.1 1213.7 820.8 1204.5 818.8 1199.2C816.9 1194 812.8 1183.2 810.5 1178.5C808.3 1173.8 803.9 1167.5 802.2 1163.9C800.6 1160.3 799.8 1155.9 798.1 1151.5C796.4 1147.1 791.9 1136.3 789.8 1130.7C787.7 1125.2 785.9 1115 782.5 1110C779.2 1105 770.8 1098.9 764.9 1093.4L736.3 1082.2C732.2 1059.4 727.5 1031.2 723.9 1013.7C720.3 996.3 712.7 965.3 709.4 951.5C706.1 937.7 700.7 917.9 699 910C697.3 902.1 697.9 897.7 696.9 892.6C696 887.5 693 877.4 691.7 871.8C690.5 866.3 688.3 856.1 687.6 851.1C686.9 846.1 686.3 838.4 686.6 834.5Z" fill="#dcdcdc" stroke="#1a1a1a" stroke-width="0.8" />
<path d="M699 910C700.7 916.9 705.2 934.2 709.4 951.5C713.5 968.8 719.4 992 723.9 1013.7C728.4 1035.5 734.3 1070.8 736.3 1082.2" fill="none" stroke="#1a1a1a" stroke-width="1.0" stroke-dasharray="3 0.8"/>
<path d="M718.7 851.1C719.1 847.8 721.8 844.4 723.9 842.8C726 841.1 731.2 838.8 734.3 838.6C737.3 838.5 744.3 840.8 746.7 841.7C749.1 842.7 750 844.1 752.4 845.9C754.9 847.7 761.9 852.6 764.9 855.2C767.9 857.9 772.9 862.6 775.3 865.6C777.6 868.6 780.9 874.5 782.5 878C784.2 881.6 786.6 888.3 787.7 892.6C788.8 896.8 790.3 903.5 790.8 910C791.4 916.5 791.8 932.8 791.9 941.1C792 949.4 791.7 965.3 791.5 972.2C791.2 979.2 790.3 986.1 789.8 993C790.1 1001.3 790.1 1011 790.8 1017.9C791.5 1024.8 793.6 1037.7 795 1044.9C796.4 1052 799.4 1064.9 801.2 1071.8C803 1078.7 807.1 1091.6 808.5 1096.7C809.8 1101.8 810.5 1105.6 811.6 1110L795 1110C792.2 1101.4 788.9 1091.6 786.7 1084.3C784.5 1077 780.5 1062.7 778.4 1055.2C776.3 1047.8 773.2 1035.7 771.1 1028.3C769 1020.8 765.6 1008.9 762.8 999.2C761.1 997.1 759.6 998 757.6 993C755.7 988 750.7 970.2 748.3 961.9C745.9 953.6 741.9 937.6 740 930.7C738.1 923.9 735.9 915.9 734.3 910.2C732.7 904.6 729.8 894.1 728 888.4C726.3 882.8 722 872.7 720.8 867.7C719.5 862.7 718.3 854.4 718.7 851.1Z" fill="#e3e3e3" stroke="#1a1a1a" stroke-width="0.7" />
<path d="M733.9 873.5L742.2 869.3L752.9 909.2L760.2 938.2L751.9 938.2L743.6 908.1L733.9 873.5Z" fill="#15120f"/>
<path d="M729.7 874.3L743 866.8" fill="none" stroke="#1a1a1a" stroke-width="0.9" />
<path d="M769 866L776.5 868.7C777.2 874.6 777.9 879.6 778.6 886.3C779.3 893.1 780 901.6 780.7 909.2L773.6 910.2C772.9 901.6 772.3 891.6 771.5 884.3C770.8 876.9 769.9 872.1 769 866Z" fill="#15120f"/>
<path d="M762.8 863.5L780.9 870" fill="none" stroke="#1a1a1a" stroke-width="0.9" />
<path d="M752.4 980.5C751.2 983.3 756.1 990.7 757.6 993C759.2 995.3 762.1 997.3 763.9 997.6C765.7 997.8 770.7 998 771.1 994.6C771.5 991.3 769.5 974.1 767 972.2C764.5 970.4 753.7 977.8 752.4 980.5Z" fill="#c4c4c4" stroke="#1a1a1a" stroke-width="0.7" />
<path d="M738.4 911.9C739.1 910.4 740.4 908.7 741.5 907.7C742.6 906.7 745.3 905 746.7 904.6C748.1 904.2 750.7 904.2 751.9 904.6C753.1 905 755 906.2 756 907.7C757 909.2 758.3 913.4 759.1 916C759.9 918.6 761.2 921.3 762.2 927.4C763.2 933.5 765.6 953.7 767 961.9C768.3 970.1 771.6 984.6 772.2 988.8C772.7 993.1 772.1 992.9 771.1 994C770.2 995.1 766.6 997.1 764.9 997.1C763.2 997.1 760.3 996.5 758.7 994C757 991.5 754.1 984.1 752.4 978.5C750.8 972.8 747.7 956.8 746.2 951.5C744.8 946.2 742.7 942 741.5 938.8C740.3 935.6 738 930 737.3 927.4C736.6 924.8 736.2 921.2 736.3 919.1C736.4 917 737.7 913.4 738.4 911.9Z" fill="#b4b4b4" stroke="#1a1a1a" stroke-width="0.7" />
<path d="M770.1 910.2C770.5 906.5 771.8 904.2 773.2 902.9C774.6 901.7 778.8 900.6 780.5 900.9C782.1 901.1 784.6 903.8 785.6 905C786.7 906.3 787.4 905.4 788.1 910.2C788.9 915 791 932.8 791.5 941.1C792 949.4 792.1 966.2 791.9 972.2C791.6 978.3 790.8 984.1 789.8 986.8C788.8 989.4 786.1 991.1 784.6 992C783.1 992.8 779.6 993.7 778.4 993C777.1 992.3 776.1 990.9 775.3 986.8C774.4 982.6 772.8 969.3 772.2 961.9C771.5 954.4 770.4 937.6 770.1 930.7C769.8 923.9 769.7 913.9 770.1 910.2Z" fill="#b4b4b4" stroke="#1a1a1a" stroke-width="0.7" />
<path d="M763.9 998.2L771.1 995.1C773.5 1005.4 776.6 1018.2 778.4 1026.2C780.2 1034.2 782.7 1047.8 784.6 1055.2C786.5 1062.7 790.7 1074.9 792.9 1082.2C795.1 1089.5 798.9 1103.7 801.2 1110.2C803.6 1116.7 807.9 1124.7 810.5 1130.7C813.2 1136.8 818.1 1149.8 820.9 1155.6C823.7 1161.5 828.2 1169.9 831.3 1174.3C834.3 1178.7 840.3 1185.5 843.7 1188.8C847.2 1192.2 852.7 1196 857.2 1199.6C854.8 1198.9 852.6 1199.3 850 1197.6C847.3 1195.8 840.8 1190.1 837.5 1186.8C834.2 1183.4 828.1 1176.7 825.1 1172.2C822 1167.8 817.5 1159.1 814.7 1153.6C811.9 1148 806.9 1136.5 804.3 1130.7C801.7 1125 797.3 1116.4 795 1110.2C792.6 1104 788.9 1091.6 786.7 1084.3C784.5 1076.9 780.5 1062.7 778.4 1055.2C776.3 1047.8 773.1 1035.9 771.1 1028.3C769.2 1020.7 766.3 1008.2 763.9 998.2Z" fill="#15120f"/>
<path d="M779.4 993.4L786.7 992C787.4 1000.6 787.9 1011.1 788.8 1017.9C789.6 1024.7 791.5 1036.1 792.9 1042.8C794.3 1049.4 797.3 1061.3 799.1 1067.7C800.9 1074 804.6 1084.8 806.4 1090.5C808.2 1096.2 810.7 1104.8 812.6 1110.2C814.6 1115.6 818.7 1125.2 820.9 1130.7C823.1 1136.3 827 1146.2 829.2 1151.5C831.4 1156.7 835 1165.5 837.5 1170.2C840 1174.9 844.8 1183 847.9 1186.8C851 1190.5 856.5 1194.4 860.7 1198.2L856.2 1199.6C852 1195.3 846.8 1190.7 843.7 1186.8C840.7 1182.8 836 1174.9 833.4 1170.2C830.7 1165.5 826.4 1156.7 824 1151.5C821.7 1146.2 818.1 1136.3 815.7 1130.7C813.4 1125.2 808.5 1115.3 806.4 1110.2C804.3 1105.1 802 1098 800.2 1092.6C798.4 1087.2 794.7 1076.1 792.9 1069.8C791.1 1063.4 788.1 1051.5 786.7 1044.9C785.3 1038.2 783.5 1026.8 782.5 1020C781.6 1013.1 780.5 1002.3 779.4 993.4Z" fill="#15120f"/>
<path d="M767 1032.4C767.3 1031.2 769.8 1029.7 771.1 1029.3C772.5 1028.9 779.2 1027.9 780.5 1028.3C781.7 1028.6 783.2 1031.2 783.6 1032.4C783.9 1033.7 784.3 1039.5 784 1040.7C783.7 1041.9 781.7 1044 780.5 1044.4C779.2 1044.9 772.4 1045.5 771.1 1045.3C769.9 1045 768.4 1043 768 1041.7C767.6 1040.5 766.7 1033.7 767 1032.4Z" fill="#bdbdbd" stroke="#1a1a1a" stroke-width="0.7" />
<path d="M770.7 1033.7L778.6 1032.4L779.4 1041.1L771.5 1042L770.7 1033.7Z" fill="#15120f"/>
<path d="M783.2 1030.3C783.4 1029.1 785 1027.6 786.1 1027.2C787.1 1026.8 792.5 1025.9 793.5 1026.2C794.5 1026.5 795.7 1028.6 796 1029.9C796.3 1031.2 796.7 1037.8 796.4 1039C796.2 1040.2 794.6 1041.6 793.5 1042C792.5 1042.3 787.1 1043 786.1 1042.8C785.1 1042.6 783.9 1040.9 783.6 1039.7C783.3 1038.4 782.9 1031.6 783.2 1030.3Z" fill="#bdbdbd" stroke="#1a1a1a" stroke-width="0.7" />
<path d="M786.1 1030.7L792.3 1029.9L792.7 1039L786.5 1039.9L786.1 1030.7Z" fill="#15120f"/>
<path d="M850 1203.4C850 1201.8 851.4 1198.7 853.1 1198.2C854.8 1197.7 862.2 1200.1 864.5 1199.2C866.8 1198.4 870.6 1192.5 872.8 1190.9C875 1189.3 880.2 1186.6 883.2 1185.7C886.1 1184.9 895.3 1183.5 897.7 1183.7C900.1 1183.8 901.5 1185.4 903.9 1186.8C906.3 1188.1 915 1193.2 918.4 1195.1C921.8 1196.9 928.1 1199.9 932.9 1202.3L932.9 1222C928.1 1222.4 921.6 1223.1 918.4 1223.1C915.3 1223.1 908.9 1222.6 906 1222C903.1 1221.4 896.4 1218.6 893.5 1217.9C890.6 1217.2 884 1215.9 881.1 1215.8C878.2 1215.7 871.1 1216.6 868.6 1216.8C866.2 1217.1 862.1 1218.5 860.3 1217.9C858.5 1217.3 854.3 1213.4 853.1 1211.7C851.9 1210 850 1204.9 850 1203.4Z" fill="#a8a8a8" stroke="#1a1a1a" stroke-width="0.7" />
<path d="M869.7 1203.4C869.2 1202.2 875.1 1196.6 876.9 1195.1C878.7 1193.5 882.8 1191 885.2 1189.9C887.6 1188.8 895.3 1185.8 897.7 1185.7C900.1 1185.6 903.6 1187.6 906 1188.8C908.4 1190 915.3 1194.3 918.4 1196.1C921.6 1197.9 928.1 1201.6 932.9 1204.4L932.9 1217.9C929.5 1214.4 925.7 1209.3 922.6 1207.5C919.4 1205.7 909.4 1203.2 906 1202.3C902.6 1201.5 895.9 1200.2 893.5 1200.2C891.1 1200.2 886.7 1201.7 885.2 1202.3C883.8 1202.9 882.5 1204.4 881.1 1205.4C877.3 1204.7 870.2 1204.6 869.7 1203.4Z" fill="#15120f"/>
<path d="M862.4 1241.7C866.2 1240.9 878 1238.5 885.2 1236.6C892.5 1234.7 898.6 1232.5 906 1230.3C913.3 1228.2 925.3 1224.8 929.2 1223.7" fill="none" stroke="#1a1a1a" stroke-width="0.8" />
<path d="M812.6 1032.4C813.2 1029.5 816.9 1032.6 818.8 1033.4C820.8 1034.3 824.6 1035.7 827.1 1038.6C829.6 1041.5 834.5 1050.2 837.5 1055.2C840.6 1060.2 847.1 1070.7 850 1076C852.9 1081.2 857.9 1091.3 859.3 1094.6C860.7 1098 861.2 1099.2 860.3 1100.9C859.5 1102.5 853.6 1105.6 853.1 1107.1C852.5 1108.6 854.4 1110.3 856.2 1112.1C858 1113.8 864.3 1117.3 866.6 1120.4C868.8 1123.4 871.1 1130.2 872.8 1134.9C874.4 1139.6 877.3 1150.7 879 1155.6C880.7 1160.6 883.3 1168.6 885.2 1172.2C887.2 1175.9 890.8 1179.4 893.5 1183L874.9 1193C870.7 1190.9 865.7 1189.5 862.4 1186.8C859.1 1184 853.3 1176.9 850 1172.2C846.6 1167.5 840.3 1157 837.5 1151.5C834.7 1146 830.9 1136.3 829.2 1130.7C827.6 1125.2 826.3 1116.5 825.1 1110C823.8 1103.5 821.3 1089.5 819.9 1082.2C818.5 1074.9 815.7 1061.9 814.7 1055.2C813.7 1048.6 812.1 1035.3 812.6 1032.4Z" fill="#fff" stroke="#1a1a1a" stroke-width="0.8" />
<path d="M815.1 1042.8C816.2 1048.3 820.1 1065.6 822 1076C823.8 1086.3 824.5 1097.3 826.1 1105C827.7 1112.8 829.2 1115.7 831.3 1122.4C833.4 1129.2 835.4 1138 838.5 1145.3C841.7 1152.5 846 1160 850 1166C853.9 1172.1 860.3 1179 862.4 1181.6" fill="none" stroke="#1a1a1a" stroke-width="0.8" />
<path d="M829.2 1116.2C831.6 1115.9 839.2 1113.8 843.7 1114.1C848.2 1114.5 853.1 1115.9 856.2 1118.3C859.3 1120.7 860.3 1123.8 862.4 1128.7C864.5 1133.5 866.6 1141.1 868.6 1147.3C870.7 1153.6 872.4 1160.4 874.9 1166C877.3 1171.6 882.1 1178.5 883.6 1181" fill="none" stroke="#1a1a1a" stroke-width="0.8" />
<path d="M869.7 1128.7L872.8 1127.6L880.7 1161.9L877.3 1162.9L869.7 1128.7Z" fill="url(#hat2)" stroke="#1a1a1a" stroke-width="0.7" />
<path d="M739.2 1085.7C742.5 1082.7 752.5 1083.5 756.6 1084.1C760.6 1084.7 766.3 1087 769.2 1090.4C772.2 1093.8 776.2 1103.9 778.7 1109.4C781.2 1114.9 785.2 1125.6 788.2 1131.6C791.1 1137.5 800 1149.5 800.8 1153.7C801.7 1157.9 797.9 1161.7 794.5 1163.2C791.1 1164.7 781.4 1164.4 775.5 1164.8C769.6 1165.2 756.6 1165.3 750.2 1166.4C743.9 1167.4 731.7 1173.1 728.1 1172.7C724.5 1172.3 723.8 1167.8 723.3 1163.2C722.9 1158.6 723.9 1145.5 724.9 1137.9C726 1130.3 729.3 1113.2 731.2 1106.2C733.1 1099.3 735.8 1088.6 739.2 1085.7Z" fill="#fff" stroke="#1a1a1a" stroke-width="0.8" />
<path d="M726.5 1163.2C726.7 1159.8 727 1145.1 728.1 1137.9C729.1 1130.7 732.6 1115.5 734.4 1109.4C736.2 1103.3 738.6 1094.5 741.4 1092C744.1 1089.5 751.9 1089.8 755 1090.4C758.1 1091.1 761.9 1093.4 764.5 1096.8C767 1100.1 771.2 1110.3 774 1115.7C776.7 1121.2 782.5 1132.8 785 1137.9C787.6 1142.9 791.9 1151.6 792.9 1153.7" fill="none" stroke="#1a1a1a" stroke-width="0.8" />
<circle cx="750.3" cy="1128.4" r="17.5" fill="#fff"/>
<circle cx="748.8" cy="1128.4" r="12.5" fill="#fff"/>
<circle cx="747.8" cy="1128.4" r="9.0" fill="#fff"/>
<path d="M721.8 1182.2C722.8 1179.2 724.3 1174.8 728.1 1172.7C731.9 1170.6 743.9 1167.4 750.2 1166.4C756.6 1165.3 769.6 1165.2 775.5 1164.8C781.4 1164.4 790.9 1163 794.5 1163.2C798.1 1163.4 800.1 1163.4 802.4 1166.4C804.8 1169.3 809.6 1179.9 811.9 1185.3C814.2 1190.8 817.1 1202 819.8 1207.5C822.6 1213 828.3 1222.3 832.5 1226.5C836.7 1230.7 844.7 1236.6 851.5 1239.1C858.2 1241.7 872.1 1245.8 883.1 1245.5C894.1 1245.1 916.9 1239.5 933.7 1236.6L933.7 1258.1C916.9 1260.4 898.3 1262.9 883.1 1265.1C867.9 1267.3 833.3 1273 819.8 1274.6C806.3 1276.2 790.3 1278 781.9 1277.1C773.4 1276.2 762.5 1271.8 756.6 1267.6C750.6 1263.4 741.8 1251.8 737.6 1245.5C733.4 1239.1 727.2 1226.9 724.9 1220.1C722.6 1213.4 720.6 1199.9 720.2 1194.8C719.7 1189.8 720.7 1185.1 721.8 1182.2Z" fill="#fff" stroke="#1a1a1a" stroke-width="0.8" />
<path d="M722.4 1180.6C723.4 1180 725.9 1177.2 729.7 1175.8C733.4 1174.5 744.1 1171.1 750.2 1170.2C756.3 1169.2 769.6 1169 775.5 1168.6C781.4 1168.1 791.1 1166.7 794.5 1167C797.9 1167.3 798.9 1168 800.8 1171.1C802.7 1174.2 806.6 1184.8 808.8 1190.1C810.9 1195.4 813.9 1205.3 816.7 1210.7C819.4 1216 825.1 1226 829.3 1230.3C833.5 1234.6 841.1 1240.4 848.3 1242.9C855.5 1245.5 872.1 1249.5 883.1 1249.2C894.1 1249 924.2 1242.1 930.6 1241" fill="none" stroke="#1a1a1a" stroke-width="0.8" />
<path d="M720.2 1198C723.1 1199 730.5 1202.2 737.6 1204.3C744.7 1206.4 754.4 1207 762.9 1210.7C771.3 1214.3 779.8 1221.5 788.2 1226.5C796.6 1231.5 804 1236.8 813.5 1240.7C823 1244.7 833.5 1248.4 845.1 1250.2C856.7 1252 868.9 1252.3 883.1 1251.8C897.3 1251.3 922.7 1247.8 930.6 1247" fill="none" stroke="#1a1a1a" stroke-width="0.8" />
<path d="M810.5 1182.6L813.7 1181.6L823.4 1216.8L820.5 1218.3L810.5 1182.6Z" fill="url(#hat2)" stroke="#1a1a1a" stroke-width="0.7" />
<path d="M740 1253.2C742.1 1254.9 748 1260.6 752.4 1263.5C756.9 1266.5 762.1 1268.9 767 1270.8C771.8 1272.7 775.6 1274.1 781.5 1274.9C787.4 1275.8 793.6 1276.3 802.2 1276C810.9 1275.6 823 1274.2 833.4 1272.9C843.7 1271.5 853.8 1269.6 864.5 1267.7C875.2 1265.8 886.8 1263.5 897.7 1261.5C908.6 1259.4 924.5 1256.3 929.8 1255.2" fill="none" stroke="#1a1a1a" stroke-width="0.8" />
<path d="M781.5 1274.9C781.7 1277.9 783.4 1287.8 782.5 1292.6C781.7 1297.3 777.3 1301.6 776.3 1303.4" fill="none" stroke="#1a1a1a" stroke-width="0.8" />
<path d="M740 1273.9C742.4 1273.6 753.5 1269.4 754.5 1271.8C755.6 1274.2 748.6 1285 746.2 1288.4C743.8 1291.9 741 1291.9 740 1292.6" fill="none" stroke="#1a1a1a" stroke-width="0.8" />
<path d="M782.5 1292.6C785.8 1294 790.3 1299.5 802.2 1300.9C814.2 1302.3 832.8 1301.4 854.1 1300.9C875.4 1300.4 917.2 1298.3 929.8 1297.8" fill="none" stroke="#1a1a1a" stroke-width="0.8" />
<path d="M777.3 1300.9C785 1301.1 810.2 1302.7 823 1302.5C835.8 1302.4 848.9 1300.3 854.1 1299.8" fill="none" stroke="#1a1a1a" stroke-width="0.8" />
<path d="M718.7 1199.2C718.9 1197.8 718.5 1193.7 719.8 1190.9C721 1188.1 722.9 1185.7 726 1182.6C729.1 1179.5 732.7 1175.3 738.4 1172.2C744.1 1169.2 756.6 1165.7 760.2 1164.4" fill="none" stroke="#1a1a1a" stroke-width="0.8" />
<path d="M718.7 1203.4C719.1 1203.9 717.8 1206.1 720.8 1206.5C723.7 1206.9 729.8 1205.3 736.3 1205.9C742.9 1206.4 756.2 1209 760.2 1209.6" fill="none" stroke="#1a1a1a" stroke-width="0.8" />
<path d="M718.7 1199.2C718.7 1199.9 717.8 1199.6 718.7 1203.4C719.6 1207.2 721.7 1215.8 723.9 1222C726.1 1228.3 729.1 1235.2 732.2 1240.7C735.3 1246.2 738.8 1250.7 742.6 1255.2C746.4 1259.7 752.1 1265.3 755 1267.7C758 1270.1 759.3 1269.4 760.2 1269.8" fill="none" stroke="#1a1a1a" stroke-width="0.8" />
<path d="M584.9 1303.4C589.4 1301.2 602.2 1294 611.9 1290.5C621.5 1287 630.9 1284.6 643 1282.2C655.1 1279.8 670.7 1277.4 684.5 1276C698.3 1274.6 713.4 1274.4 726 1273.9C738.6 1273.4 754.5 1273 760.2 1272.9" fill="none" stroke="#1a1a1a" stroke-width="0.8" />
<path d="M595.3 1303.4C599.8 1301.4 612.6 1294.7 622.2 1291.5C631.9 1288.4 641.3 1286.5 653.4 1284.3C665.5 1282.1 678.6 1279.8 694.9 1278.5C711.1 1277.1 741.5 1276.4 750.9 1276" fill="none" stroke="#1a1a1a" stroke-width="0.8" />
<path d="M642 1303.4C644.2 1301.6 642.8 1295.6 655.4 1292.6C668.1 1289.6 707 1286.3 717.7 1285.3C728.4 1284.3 722.5 1283.8 719.8 1286.8C717 1289.8 704.2 1300.6 701.1 1303.4" fill="none" stroke="#1a1a1a" stroke-width="0.8" />
<path d="M726 1303.4C728 1300.5 735 1289.5 738.4 1286.3C741.9 1283.2 745.3 1284.6 746.7 1284.3" fill="none" stroke="#1a1a1a" stroke-width="0.8" />
<path d="M755 1269.8C753.6 1272.2 749.5 1278.7 746.7 1284.3C744 1289.9 739.8 1300.2 738.4 1303.4" fill="none" stroke="#1a1a1a" stroke-width="0.8" />
<path d="M732.2 1303.4C733.9 1300.7 740.8 1290 742.6 1287.4" fill="none" stroke="#1a1a1a" stroke-width="0.8" />
<path d="M613.9 1297.8C618.8 1296.2 625.4 1293.5 628.5 1293C631.6 1292.5 639.5 1292.7 645.1 1292.6C643 1294.3 641.3 1296.9 638.8 1297.8C636.3 1298.6 626.4 1300.1 620.2 1301.3L613.9 1297.8Z" fill="url(#hat2)" stroke="#1a1a1a" stroke-width="0.8" />
<path d="M659.6 1301.9C662.4 1298.1 666.2 1291.9 667.9 1290.5C669.5 1289.1 674.1 1288.2 676.2 1288C678.3 1287.8 687.3 1288 688.6 1288.8C690 1289.7 690.1 1295.4 689.7 1296.7C689.3 1298 686.2 1300.2 684.5 1301.9L659.6 1301.9Z" fill="url(#hat1)" stroke="#1a1a1a" stroke-width="0.9" />
<path d="M740 1276C741.4 1275.8 746.9 1275.1 748.3 1274.9" fill="none" stroke="#1a1a1a" stroke-width="0.8" />
<path d="M740 1282.2C741.2 1281.7 746.1 1279.6 747.3 1279.1" fill="none" stroke="#1a1a1a" stroke-width="0.8" />
<path d="M692.8 771.8C690.7 771 685.2 768.3 680.3 767.1C675.5 765.8 670 764.8 663.7 764.4C657.5 763.9 649.9 763.7 643 764.4C636.1 765 629.2 766.1 622.2 768.1C615.3 770.1 608.4 772.8 601.5 776.4C594.6 780 586.6 785.4 580.7 789.9C574.9 794.4 569.7 800.5 566.2 803.4C562.8 806.2 561.2 806.5 560.2 807.1" fill="none" stroke="#1a1a1a" stroke-width="1.5" />
<path d="M547.3 820.4L553.9 800.5L558.7 809.2L566.0 811.0Z" fill="#1a1a1a" stroke="none"/>
<path d="M515.4 866.5C515.4 865.2 518.4 862.8 519.1 862.4C519.8 861.9 521 862.4 521.6 862.8C522.1 863.2 523.3 864.5 523.7 865.7C524 866.9 524.5 871.3 524.9 873.2C525.3 875 526.4 879.5 527.4 881.5C528.4 883.4 531.9 888.3 533.2 889.8C534.5 891.2 538.4 892.6 538.6 893.5C538.8 894.4 535.9 896.6 534.9 897.2C533.8 897.8 531 899.2 529.9 898.9C528.7 898.6 525.8 896 524.9 894.7C524 893.5 522.8 889.8 522.4 888.1C522 886.3 522 881.4 521.6 879.8C521.2 878.1 519.8 875.5 519.1 874C518.4 872.4 515.4 867.9 515.4 866.5Z" fill="#fff" stroke="#1a1a1a" stroke-width="0.9" />
<path d="M520.7 874.8C521.4 875.9 524.1 879.2 524.9 881.5C525.7 883.7 525.2 886 525.7 888.1C526.3 890.2 527.1 892.7 528.2 893.9C529.3 895.1 531 895.8 532.4 895.6C533.7 895.3 535.8 892.8 536.5 892.2" fill="none" stroke="#1a1a1a" stroke-width="0.8" />
<path d="M523.2 865.7C529.9 862.1 540.4 856.3 543.2 854.9C545.9 853.4 546.1 853.2 546.9 853.2C547.7 853.2 548.7 853.7 549.8 854.9C550.9 856.1 555.1 861.1 556.4 863.2C557.8 865.3 560.6 871.2 561.4 873.2C562.2 875.1 563.1 878.6 563.1 879.8C563.1 881 562 882 561.4 883.1C558.1 884.8 554 886.8 551.5 888.1C548.9 889.3 543.7 892 539.8 893.9C539 893.9 538.1 894.4 537.3 893.9C536.6 893.4 534.3 891.2 533.2 889.8C532.1 888.3 529.3 883.5 528.2 881.5C527.2 879.4 524.6 874.2 524.1 872.3C523.5 870.5 523.5 867.9 523.2 865.7Z" fill="#fff" stroke="#1a1a1a" stroke-width="0.9" />
<path d="M524.9 864.9C528.2 863.5 531.3 862.6 534.9 860.7C538.5 858.8 542.6 856 546.5 853.7" fill="none" stroke="#1a1a1a" stroke-width="1.8" />
<path d="M532.8 866.5C532.7 865.6 533.6 864.6 534.4 865.7C535.3 866.8 537.6 872.3 539 874.8C540.4 877.4 543.8 883 544.8 884.8C545.8 886.5 546.5 887.6 546.5 888.1C546.4 888.6 545.4 889.5 544.4 888.5C543.4 887.5 540.3 882.8 539 880.6C537.7 878.5 535.7 874.2 534.9 872.3C534 870.4 532.8 867.4 532.8 866.5Z" fill="none" stroke="#1a1a1a" stroke-width="0.8" />
<path d="M537.3 864C537.2 863 538.1 862.4 539 863.2C539.9 864 542.7 867.7 544 869.8C545.3 871.9 548 877 549 879C550 881 551.3 883.8 551.5 884.8C551.6 885.8 550.7 887.2 549.8 886.4C548.9 885.7 546.1 881.1 544.8 879C543.5 876.9 540.8 872.7 539.8 870.7C538.8 868.7 537.5 865 537.3 864Z" fill="none" stroke="#1a1a1a" stroke-width="0.8" />
<path d="M541.9 860.3C541.8 859.3 543 858.7 544 859.5C544.9 860.2 547.6 863.6 549 865.7C550.3 867.7 552.9 872.7 553.9 874.8C554.9 876.9 556.3 880.3 556.4 881.5C556.5 882.6 555.7 884 554.8 883.1C553.9 882.2 551.1 877 549.8 874.8C548.5 872.6 545.9 868.5 544.8 866.5C543.8 864.6 542 861.2 541.9 860.3Z" fill="none" stroke="#1a1a1a" stroke-width="0.8" />
<path d="M529 868.2C529.5 869.6 530.4 873.7 531.5 876.5C532.6 879.2 534.3 882.4 535.7 884.8C537.1 887.2 539.1 889.8 539.8 890.7" fill="none" stroke="#1a1a1a" stroke-width="0.8" />
<path d="M528.6 879.8C529.4 881 531.7 885.3 533.2 887.3C534.6 889.2 536.7 890.7 537.3 891.4" fill="none" stroke="#1a1a1a" stroke-width="1.6" />
<circle cx="539.0" cy="877.7" r="3.4" fill="#fff"/><circle cx="539.0" cy="877.7" r="1.5" fill="#1a1a1a" stroke="none"/>
<path d="M522.6 870.7L525.7 869.8L527 879L523.7 879.8L522.6 870.7Z" fill="#1a1a1a"/>
<path d="M536.5 891L539 890.2L540.2 893.9L537.5 894.9L536.5 891Z" fill="#1a1a1a"/>
</g>
<rect x="487.3" y="716" width="36.8" height="44.7" fill="#15120f"/>
</g>
</svg>
</body></html>
